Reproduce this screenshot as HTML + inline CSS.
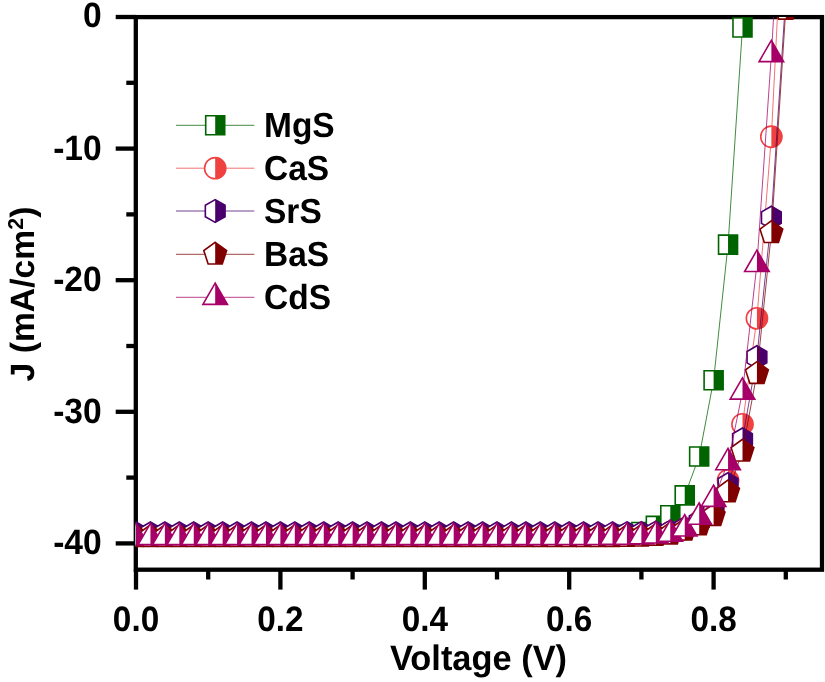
<!DOCTYPE html><html><head><meta charset="utf-8"><style>html,body{margin:0;padding:0;background:#fff}svg{display:block;will-change:transform}text{font-family:"Liberation Sans",sans-serif;font-weight:bold;fill:#000;text-rendering:geometricPrecision}</style></head><body>
<svg width="825" height="682" viewBox="0 0 825 682">
<rect width="825" height="682" fill="#fff"/>
<g stroke="#000" fill="none" stroke-linecap="butt">
<rect x="135.80" y="17.10" width="686.20" height="552.60" stroke-width="4.30"/>
<line x1="115.70" y1="17.00" x2="135.80" y2="17.00" stroke-width="4.30"/>
<line x1="115.70" y1="148.60" x2="135.80" y2="148.60" stroke-width="4.30"/>
<line x1="115.70" y1="280.20" x2="135.80" y2="280.20" stroke-width="4.30"/>
<line x1="115.70" y1="411.80" x2="135.80" y2="411.80" stroke-width="4.30"/>
<line x1="115.70" y1="543.40" x2="135.80" y2="543.40" stroke-width="4.30"/>
<line x1="126.30" y1="82.80" x2="135.80" y2="82.80" stroke-width="4.30"/>
<line x1="126.30" y1="214.40" x2="135.80" y2="214.40" stroke-width="4.30"/>
<line x1="126.30" y1="346.00" x2="135.80" y2="346.00" stroke-width="4.30"/>
<line x1="126.30" y1="477.60" x2="135.80" y2="477.60" stroke-width="4.30"/>
<line x1="136.00" y1="569.70" x2="136.00" y2="589.60" stroke-width="4.30"/>
<line x1="208.20" y1="569.70" x2="208.20" y2="579.50" stroke-width="4.30"/>
<line x1="280.40" y1="569.70" x2="280.40" y2="589.60" stroke-width="4.30"/>
<line x1="352.60" y1="569.70" x2="352.60" y2="579.50" stroke-width="4.30"/>
<line x1="424.80" y1="569.70" x2="424.80" y2="589.60" stroke-width="4.30"/>
<line x1="497.00" y1="569.70" x2="497.00" y2="579.50" stroke-width="4.30"/>
<line x1="569.20" y1="569.70" x2="569.20" y2="589.60" stroke-width="4.30"/>
<line x1="641.40" y1="569.70" x2="641.40" y2="579.50" stroke-width="4.30"/>
<line x1="713.60" y1="569.70" x2="713.60" y2="589.60" stroke-width="4.30"/>
<line x1="785.80" y1="569.70" x2="785.80" y2="579.50" stroke-width="4.30"/>
</g>
<text transform="translate(101.70,27.40) scale(1,1.050)" font-size="33.60" text-anchor="end">0</text>
<text transform="translate(101.70,159.50) scale(1,1.050)" font-size="33.60" text-anchor="end">-10</text>
<text transform="translate(101.70,291.10) scale(1,1.050)" font-size="33.60" text-anchor="end">-20</text>
<text transform="translate(101.70,422.70) scale(1,1.050)" font-size="33.60" text-anchor="end">-30</text>
<text transform="translate(101.70,554.30) scale(1,1.050)" font-size="33.60" text-anchor="end">-40</text>
<text transform="translate(136.00,630.70) scale(1,1.060)" font-size="33.30" text-anchor="middle">0.0</text>
<text transform="translate(280.40,630.70) scale(1,1.060)" font-size="33.30" text-anchor="middle">0.2</text>
<text transform="translate(424.80,630.70) scale(1,1.060)" font-size="33.30" text-anchor="middle">0.4</text>
<text transform="translate(569.20,630.70) scale(1,1.060)" font-size="33.30" text-anchor="middle">0.6</text>
<text transform="translate(713.60,630.70) scale(1,1.060)" font-size="33.30" text-anchor="middle">0.8</text>
<text transform="translate(478.50,670.00) scale(1,1.030)" font-size="34.40" text-anchor="middle">Voltage (V)</text>
<text transform="translate(33.70,294.00) rotate(-90) scale(1,1.000)" font-size="33.70" text-anchor="middle">J (mA/cm<tspan font-size="21.5" dy="-11">2</tspan><tspan dy="11">)</tspan></text>
<defs><clipPath id="c"><rect x="135.80" y="17.10" width="686.20" height="552.60"/></clipPath></defs>
<g clip-path="url(#c)">
<polyline points="136.00,535.77 150.44,535.77 164.88,535.77 179.32,535.77 193.76,535.77 208.20,535.77 222.64,535.77 237.08,535.77 251.52,535.77 265.96,535.77 280.40,535.77 294.84,535.77 309.28,535.77 323.72,535.77 338.16,535.77 352.60,535.77 367.04,535.77 381.48,535.77 395.92,535.77 410.36,535.77 424.80,535.77 439.24,535.77 453.68,535.77 468.12,535.77 482.56,535.77 497.00,535.77 511.44,535.76 525.88,535.76 540.32,535.76 554.76,535.75 569.20,535.72 583.64,535.68 598.08,535.58 612.52,535.37 626.96,534.85 641.40,531.95 655.84,525.90 670.28,515.24 684.72,495.37 699.16,456.54 713.60,380.22 728.04,244.67 742.48,27.53 756.92,-312.00" fill="none" stroke="#006400" stroke-width="0.75"/>
<polygon points="126.50,526.27 145.50,526.27 145.50,545.27 126.50,545.27" fill="#fff"/><polygon points="136.00,526.27 145.50,526.27 145.50,545.27 136.00,545.27" fill="#006400"/><polygon points="126.50,526.27 145.50,526.27 145.50,545.27 126.50,545.27" fill="none" stroke="#006400" stroke-width="1.60" stroke-linejoin="miter"/>
<polygon points="140.94,526.27 159.94,526.27 159.94,545.27 140.94,545.27" fill="#fff"/><polygon points="150.44,526.27 159.94,526.27 159.94,545.27 150.44,545.27" fill="#006400"/><polygon points="140.94,526.27 159.94,526.27 159.94,545.27 140.94,545.27" fill="none" stroke="#006400" stroke-width="1.60" stroke-linejoin="miter"/>
<polygon points="155.38,526.27 174.38,526.27 174.38,545.27 155.38,545.27" fill="#fff"/><polygon points="164.88,526.27 174.38,526.27 174.38,545.27 164.88,545.27" fill="#006400"/><polygon points="155.38,526.27 174.38,526.27 174.38,545.27 155.38,545.27" fill="none" stroke="#006400" stroke-width="1.60" stroke-linejoin="miter"/>
<polygon points="169.82,526.27 188.82,526.27 188.82,545.27 169.82,545.27" fill="#fff"/><polygon points="179.32,526.27 188.82,526.27 188.82,545.27 179.32,545.27" fill="#006400"/><polygon points="169.82,526.27 188.82,526.27 188.82,545.27 169.82,545.27" fill="none" stroke="#006400" stroke-width="1.60" stroke-linejoin="miter"/>
<polygon points="184.26,526.27 203.26,526.27 203.26,545.27 184.26,545.27" fill="#fff"/><polygon points="193.76,526.27 203.26,526.27 203.26,545.27 193.76,545.27" fill="#006400"/><polygon points="184.26,526.27 203.26,526.27 203.26,545.27 184.26,545.27" fill="none" stroke="#006400" stroke-width="1.60" stroke-linejoin="miter"/>
<polygon points="198.70,526.27 217.70,526.27 217.70,545.27 198.70,545.27" fill="#fff"/><polygon points="208.20,526.27 217.70,526.27 217.70,545.27 208.20,545.27" fill="#006400"/><polygon points="198.70,526.27 217.70,526.27 217.70,545.27 198.70,545.27" fill="none" stroke="#006400" stroke-width="1.60" stroke-linejoin="miter"/>
<polygon points="213.14,526.27 232.14,526.27 232.14,545.27 213.14,545.27" fill="#fff"/><polygon points="222.64,526.27 232.14,526.27 232.14,545.27 222.64,545.27" fill="#006400"/><polygon points="213.14,526.27 232.14,526.27 232.14,545.27 213.14,545.27" fill="none" stroke="#006400" stroke-width="1.60" stroke-linejoin="miter"/>
<polygon points="227.58,526.27 246.58,526.27 246.58,545.27 227.58,545.27" fill="#fff"/><polygon points="237.08,526.27 246.58,526.27 246.58,545.27 237.08,545.27" fill="#006400"/><polygon points="227.58,526.27 246.58,526.27 246.58,545.27 227.58,545.27" fill="none" stroke="#006400" stroke-width="1.60" stroke-linejoin="miter"/>
<polygon points="242.02,526.27 261.02,526.27 261.02,545.27 242.02,545.27" fill="#fff"/><polygon points="251.52,526.27 261.02,526.27 261.02,545.27 251.52,545.27" fill="#006400"/><polygon points="242.02,526.27 261.02,526.27 261.02,545.27 242.02,545.27" fill="none" stroke="#006400" stroke-width="1.60" stroke-linejoin="miter"/>
<polygon points="256.46,526.27 275.46,526.27 275.46,545.27 256.46,545.27" fill="#fff"/><polygon points="265.96,526.27 275.46,526.27 275.46,545.27 265.96,545.27" fill="#006400"/><polygon points="256.46,526.27 275.46,526.27 275.46,545.27 256.46,545.27" fill="none" stroke="#006400" stroke-width="1.60" stroke-linejoin="miter"/>
<polygon points="270.90,526.27 289.90,526.27 289.90,545.27 270.90,545.27" fill="#fff"/><polygon points="280.40,526.27 289.90,526.27 289.90,545.27 280.40,545.27" fill="#006400"/><polygon points="270.90,526.27 289.90,526.27 289.90,545.27 270.90,545.27" fill="none" stroke="#006400" stroke-width="1.60" stroke-linejoin="miter"/>
<polygon points="285.34,526.27 304.34,526.27 304.34,545.27 285.34,545.27" fill="#fff"/><polygon points="294.84,526.27 304.34,526.27 304.34,545.27 294.84,545.27" fill="#006400"/><polygon points="285.34,526.27 304.34,526.27 304.34,545.27 285.34,545.27" fill="none" stroke="#006400" stroke-width="1.60" stroke-linejoin="miter"/>
<polygon points="299.78,526.27 318.78,526.27 318.78,545.27 299.78,545.27" fill="#fff"/><polygon points="309.28,526.27 318.78,526.27 318.78,545.27 309.28,545.27" fill="#006400"/><polygon points="299.78,526.27 318.78,526.27 318.78,545.27 299.78,545.27" fill="none" stroke="#006400" stroke-width="1.60" stroke-linejoin="miter"/>
<polygon points="314.22,526.27 333.22,526.27 333.22,545.27 314.22,545.27" fill="#fff"/><polygon points="323.72,526.27 333.22,526.27 333.22,545.27 323.72,545.27" fill="#006400"/><polygon points="314.22,526.27 333.22,526.27 333.22,545.27 314.22,545.27" fill="none" stroke="#006400" stroke-width="1.60" stroke-linejoin="miter"/>
<polygon points="328.66,526.27 347.66,526.27 347.66,545.27 328.66,545.27" fill="#fff"/><polygon points="338.16,526.27 347.66,526.27 347.66,545.27 338.16,545.27" fill="#006400"/><polygon points="328.66,526.27 347.66,526.27 347.66,545.27 328.66,545.27" fill="none" stroke="#006400" stroke-width="1.60" stroke-linejoin="miter"/>
<polygon points="343.10,526.27 362.10,526.27 362.10,545.27 343.10,545.27" fill="#fff"/><polygon points="352.60,526.27 362.10,526.27 362.10,545.27 352.60,545.27" fill="#006400"/><polygon points="343.10,526.27 362.10,526.27 362.10,545.27 343.10,545.27" fill="none" stroke="#006400" stroke-width="1.60" stroke-linejoin="miter"/>
<polygon points="357.54,526.27 376.54,526.27 376.54,545.27 357.54,545.27" fill="#fff"/><polygon points="367.04,526.27 376.54,526.27 376.54,545.27 367.04,545.27" fill="#006400"/><polygon points="357.54,526.27 376.54,526.27 376.54,545.27 357.54,545.27" fill="none" stroke="#006400" stroke-width="1.60" stroke-linejoin="miter"/>
<polygon points="371.98,526.27 390.98,526.27 390.98,545.27 371.98,545.27" fill="#fff"/><polygon points="381.48,526.27 390.98,526.27 390.98,545.27 381.48,545.27" fill="#006400"/><polygon points="371.98,526.27 390.98,526.27 390.98,545.27 371.98,545.27" fill="none" stroke="#006400" stroke-width="1.60" stroke-linejoin="miter"/>
<polygon points="386.42,526.27 405.42,526.27 405.42,545.27 386.42,545.27" fill="#fff"/><polygon points="395.92,526.27 405.42,526.27 405.42,545.27 395.92,545.27" fill="#006400"/><polygon points="386.42,526.27 405.42,526.27 405.42,545.27 386.42,545.27" fill="none" stroke="#006400" stroke-width="1.60" stroke-linejoin="miter"/>
<polygon points="400.86,526.27 419.86,526.27 419.86,545.27 400.86,545.27" fill="#fff"/><polygon points="410.36,526.27 419.86,526.27 419.86,545.27 410.36,545.27" fill="#006400"/><polygon points="400.86,526.27 419.86,526.27 419.86,545.27 400.86,545.27" fill="none" stroke="#006400" stroke-width="1.60" stroke-linejoin="miter"/>
<polygon points="415.30,526.27 434.30,526.27 434.30,545.27 415.30,545.27" fill="#fff"/><polygon points="424.80,526.27 434.30,526.27 434.30,545.27 424.80,545.27" fill="#006400"/><polygon points="415.30,526.27 434.30,526.27 434.30,545.27 415.30,545.27" fill="none" stroke="#006400" stroke-width="1.60" stroke-linejoin="miter"/>
<polygon points="429.74,526.27 448.74,526.27 448.74,545.27 429.74,545.27" fill="#fff"/><polygon points="439.24,526.27 448.74,526.27 448.74,545.27 439.24,545.27" fill="#006400"/><polygon points="429.74,526.27 448.74,526.27 448.74,545.27 429.74,545.27" fill="none" stroke="#006400" stroke-width="1.60" stroke-linejoin="miter"/>
<polygon points="444.18,526.27 463.18,526.27 463.18,545.27 444.18,545.27" fill="#fff"/><polygon points="453.68,526.27 463.18,526.27 463.18,545.27 453.68,545.27" fill="#006400"/><polygon points="444.18,526.27 463.18,526.27 463.18,545.27 444.18,545.27" fill="none" stroke="#006400" stroke-width="1.60" stroke-linejoin="miter"/>
<polygon points="458.62,526.27 477.62,526.27 477.62,545.27 458.62,545.27" fill="#fff"/><polygon points="468.12,526.27 477.62,526.27 477.62,545.27 468.12,545.27" fill="#006400"/><polygon points="458.62,526.27 477.62,526.27 477.62,545.27 458.62,545.27" fill="none" stroke="#006400" stroke-width="1.60" stroke-linejoin="miter"/>
<polygon points="473.06,526.27 492.06,526.27 492.06,545.27 473.06,545.27" fill="#fff"/><polygon points="482.56,526.27 492.06,526.27 492.06,545.27 482.56,545.27" fill="#006400"/><polygon points="473.06,526.27 492.06,526.27 492.06,545.27 473.06,545.27" fill="none" stroke="#006400" stroke-width="1.60" stroke-linejoin="miter"/>
<polygon points="487.50,526.27 506.50,526.27 506.50,545.27 487.50,545.27" fill="#fff"/><polygon points="497.00,526.27 506.50,526.27 506.50,545.27 497.00,545.27" fill="#006400"/><polygon points="487.50,526.27 506.50,526.27 506.50,545.27 487.50,545.27" fill="none" stroke="#006400" stroke-width="1.60" stroke-linejoin="miter"/>
<polygon points="501.94,526.26 520.94,526.26 520.94,545.26 501.94,545.26" fill="#fff"/><polygon points="511.44,526.26 520.94,526.26 520.94,545.26 511.44,545.26" fill="#006400"/><polygon points="501.94,526.26 520.94,526.26 520.94,545.26 501.94,545.26" fill="none" stroke="#006400" stroke-width="1.60" stroke-linejoin="miter"/>
<polygon points="516.38,526.26 535.38,526.26 535.38,545.26 516.38,545.26" fill="#fff"/><polygon points="525.88,526.26 535.38,526.26 535.38,545.26 525.88,545.26" fill="#006400"/><polygon points="516.38,526.26 535.38,526.26 535.38,545.26 516.38,545.26" fill="none" stroke="#006400" stroke-width="1.60" stroke-linejoin="miter"/>
<polygon points="530.82,526.26 549.82,526.26 549.82,545.26 530.82,545.26" fill="#fff"/><polygon points="540.32,526.26 549.82,526.26 549.82,545.26 540.32,545.26" fill="#006400"/><polygon points="530.82,526.26 549.82,526.26 549.82,545.26 530.82,545.26" fill="none" stroke="#006400" stroke-width="1.60" stroke-linejoin="miter"/>
<polygon points="545.26,526.25 564.26,526.25 564.26,545.25 545.26,545.25" fill="#fff"/><polygon points="554.76,526.25 564.26,526.25 564.26,545.25 554.76,545.25" fill="#006400"/><polygon points="545.26,526.25 564.26,526.25 564.26,545.25 545.26,545.25" fill="none" stroke="#006400" stroke-width="1.60" stroke-linejoin="miter"/>
<polygon points="559.70,526.22 578.70,526.22 578.70,545.22 559.70,545.22" fill="#fff"/><polygon points="569.20,526.22 578.70,526.22 578.70,545.22 569.20,545.22" fill="#006400"/><polygon points="559.70,526.22 578.70,526.22 578.70,545.22 559.70,545.22" fill="none" stroke="#006400" stroke-width="1.60" stroke-linejoin="miter"/>
<polygon points="574.14,526.18 593.14,526.18 593.14,545.18 574.14,545.18" fill="#fff"/><polygon points="583.64,526.18 593.14,526.18 593.14,545.18 583.64,545.18" fill="#006400"/><polygon points="574.14,526.18 593.14,526.18 593.14,545.18 574.14,545.18" fill="none" stroke="#006400" stroke-width="1.60" stroke-linejoin="miter"/>
<polygon points="588.58,526.08 607.58,526.08 607.58,545.08 588.58,545.08" fill="#fff"/><polygon points="598.08,526.08 607.58,526.08 607.58,545.08 598.08,545.08" fill="#006400"/><polygon points="588.58,526.08 607.58,526.08 607.58,545.08 588.58,545.08" fill="none" stroke="#006400" stroke-width="1.60" stroke-linejoin="miter"/>
<polygon points="603.02,525.87 622.02,525.87 622.02,544.87 603.02,544.87" fill="#fff"/><polygon points="612.52,525.87 622.02,525.87 622.02,544.87 612.52,544.87" fill="#006400"/><polygon points="603.02,525.87 622.02,525.87 622.02,544.87 603.02,544.87" fill="none" stroke="#006400" stroke-width="1.60" stroke-linejoin="miter"/>
<polygon points="617.46,525.35 636.46,525.35 636.46,544.35 617.46,544.35" fill="#fff"/><polygon points="626.96,525.35 636.46,525.35 636.46,544.35 626.96,544.35" fill="#006400"/><polygon points="617.46,525.35 636.46,525.35 636.46,544.35 617.46,544.35" fill="none" stroke="#006400" stroke-width="1.60" stroke-linejoin="miter"/>
<polygon points="631.90,522.45 650.90,522.45 650.90,541.45 631.90,541.45" fill="#fff"/><polygon points="641.40,522.45 650.90,522.45 650.90,541.45 641.40,541.45" fill="#006400"/><polygon points="631.90,522.45 650.90,522.45 650.90,541.45 631.90,541.45" fill="none" stroke="#006400" stroke-width="1.60" stroke-linejoin="miter"/>
<polygon points="646.34,516.40 665.34,516.40 665.34,535.40 646.34,535.40" fill="#fff"/><polygon points="655.84,516.40 665.34,516.40 665.34,535.40 655.84,535.40" fill="#006400"/><polygon points="646.34,516.40 665.34,516.40 665.34,535.40 646.34,535.40" fill="none" stroke="#006400" stroke-width="1.60" stroke-linejoin="miter"/>
<polygon points="660.78,505.74 679.78,505.74 679.78,524.74 660.78,524.74" fill="#fff"/><polygon points="670.28,505.74 679.78,505.74 679.78,524.74 670.28,524.74" fill="#006400"/><polygon points="660.78,505.74 679.78,505.74 679.78,524.74 660.78,524.74" fill="none" stroke="#006400" stroke-width="1.60" stroke-linejoin="miter"/>
<polygon points="675.22,485.87 694.22,485.87 694.22,504.87 675.22,504.87" fill="#fff"/><polygon points="684.72,485.87 694.22,485.87 694.22,504.87 684.72,504.87" fill="#006400"/><polygon points="675.22,485.87 694.22,485.87 694.22,504.87 675.22,504.87" fill="none" stroke="#006400" stroke-width="1.60" stroke-linejoin="miter"/>
<polygon points="689.66,447.04 708.66,447.04 708.66,466.04 689.66,466.04" fill="#fff"/><polygon points="699.16,447.04 708.66,447.04 708.66,466.04 699.16,466.04" fill="#006400"/><polygon points="689.66,447.04 708.66,447.04 708.66,466.04 689.66,466.04" fill="none" stroke="#006400" stroke-width="1.60" stroke-linejoin="miter"/>
<polygon points="704.10,370.72 723.10,370.72 723.10,389.72 704.10,389.72" fill="#fff"/><polygon points="713.60,370.72 723.10,370.72 723.10,389.72 713.60,389.72" fill="#006400"/><polygon points="704.10,370.72 723.10,370.72 723.10,389.72 704.10,389.72" fill="none" stroke="#006400" stroke-width="1.60" stroke-linejoin="miter"/>
<polygon points="718.54,235.17 737.54,235.17 737.54,254.17 718.54,254.17" fill="#fff"/><polygon points="728.04,235.17 737.54,235.17 737.54,254.17 728.04,254.17" fill="#006400"/><polygon points="718.54,235.17 737.54,235.17 737.54,254.17 718.54,254.17" fill="none" stroke="#006400" stroke-width="1.60" stroke-linejoin="miter"/>
<polygon points="732.98,18.03 751.98,18.03 751.98,37.03 732.98,37.03" fill="#fff"/><polygon points="742.48,18.03 751.98,18.03 751.98,37.03 742.48,37.03" fill="#006400"/><polygon points="732.98,18.03 751.98,18.03 751.98,37.03 732.98,37.03" fill="none" stroke="#006400" stroke-width="1.60" stroke-linejoin="miter"/>
<polygon points="747.42,-321.50 766.42,-321.50 766.42,-302.50 747.42,-302.50" fill="#fff"/><polygon points="756.92,-321.50 766.42,-321.50 766.42,-302.50 756.92,-302.50" fill="#006400"/><polygon points="747.42,-321.50 766.42,-321.50 766.42,-302.50 747.42,-302.50" fill="none" stroke="#006400" stroke-width="1.60" stroke-linejoin="miter"/>
<polyline points="136.00,535.50 150.44,535.50 164.88,535.50 179.32,535.50 193.76,535.50 208.20,535.50 222.64,535.50 237.08,535.50 251.52,535.50 265.96,535.50 280.40,535.50 294.84,535.50 309.28,535.50 323.72,535.50 338.16,535.50 352.60,535.50 367.04,535.50 381.48,535.50 395.92,535.50 410.36,535.50 424.80,535.50 439.24,535.50 453.68,535.50 468.12,535.50 482.56,535.50 497.00,535.50 511.44,535.50 525.88,535.50 540.32,535.50 554.76,535.50 569.20,535.49 583.64,535.47 598.08,535.42 612.52,535.33 626.96,535.15 641.40,534.76 655.84,533.94 670.28,532.21 684.72,528.92 699.16,521.69 713.60,507.87 728.04,480.23 742.48,424.30 756.92,318.36 771.36,136.76 785.80,-148.82" fill="none" stroke="#f04141" stroke-width="0.75"/>
<circle cx="136.00" cy="535.50" r="10.60" fill="#fff" stroke="none"/><path d="M136.00 524.90 A10.60 10.60 0 0 1 136.00 546.10 Z" fill="#f04141"/><circle cx="136.00" cy="535.50" r="10.60" fill="none" stroke="#f04141" stroke-width="1.60"/>
<circle cx="150.44" cy="535.50" r="10.60" fill="#fff" stroke="none"/><path d="M150.44 524.90 A10.60 10.60 0 0 1 150.44 546.10 Z" fill="#f04141"/><circle cx="150.44" cy="535.50" r="10.60" fill="none" stroke="#f04141" stroke-width="1.60"/>
<circle cx="164.88" cy="535.50" r="10.60" fill="#fff" stroke="none"/><path d="M164.88 524.90 A10.60 10.60 0 0 1 164.88 546.10 Z" fill="#f04141"/><circle cx="164.88" cy="535.50" r="10.60" fill="none" stroke="#f04141" stroke-width="1.60"/>
<circle cx="179.32" cy="535.50" r="10.60" fill="#fff" stroke="none"/><path d="M179.32 524.90 A10.60 10.60 0 0 1 179.32 546.10 Z" fill="#f04141"/><circle cx="179.32" cy="535.50" r="10.60" fill="none" stroke="#f04141" stroke-width="1.60"/>
<circle cx="193.76" cy="535.50" r="10.60" fill="#fff" stroke="none"/><path d="M193.76 524.90 A10.60 10.60 0 0 1 193.76 546.10 Z" fill="#f04141"/><circle cx="193.76" cy="535.50" r="10.60" fill="none" stroke="#f04141" stroke-width="1.60"/>
<circle cx="208.20" cy="535.50" r="10.60" fill="#fff" stroke="none"/><path d="M208.20 524.90 A10.60 10.60 0 0 1 208.20 546.10 Z" fill="#f04141"/><circle cx="208.20" cy="535.50" r="10.60" fill="none" stroke="#f04141" stroke-width="1.60"/>
<circle cx="222.64" cy="535.50" r="10.60" fill="#fff" stroke="none"/><path d="M222.64 524.90 A10.60 10.60 0 0 1 222.64 546.10 Z" fill="#f04141"/><circle cx="222.64" cy="535.50" r="10.60" fill="none" stroke="#f04141" stroke-width="1.60"/>
<circle cx="237.08" cy="535.50" r="10.60" fill="#fff" stroke="none"/><path d="M237.08 524.90 A10.60 10.60 0 0 1 237.08 546.10 Z" fill="#f04141"/><circle cx="237.08" cy="535.50" r="10.60" fill="none" stroke="#f04141" stroke-width="1.60"/>
<circle cx="251.52" cy="535.50" r="10.60" fill="#fff" stroke="none"/><path d="M251.52 524.90 A10.60 10.60 0 0 1 251.52 546.10 Z" fill="#f04141"/><circle cx="251.52" cy="535.50" r="10.60" fill="none" stroke="#f04141" stroke-width="1.60"/>
<circle cx="265.96" cy="535.50" r="10.60" fill="#fff" stroke="none"/><path d="M265.96 524.90 A10.60 10.60 0 0 1 265.96 546.10 Z" fill="#f04141"/><circle cx="265.96" cy="535.50" r="10.60" fill="none" stroke="#f04141" stroke-width="1.60"/>
<circle cx="280.40" cy="535.50" r="10.60" fill="#fff" stroke="none"/><path d="M280.40 524.90 A10.60 10.60 0 0 1 280.40 546.10 Z" fill="#f04141"/><circle cx="280.40" cy="535.50" r="10.60" fill="none" stroke="#f04141" stroke-width="1.60"/>
<circle cx="294.84" cy="535.50" r="10.60" fill="#fff" stroke="none"/><path d="M294.84 524.90 A10.60 10.60 0 0 1 294.84 546.10 Z" fill="#f04141"/><circle cx="294.84" cy="535.50" r="10.60" fill="none" stroke="#f04141" stroke-width="1.60"/>
<circle cx="309.28" cy="535.50" r="10.60" fill="#fff" stroke="none"/><path d="M309.28 524.90 A10.60 10.60 0 0 1 309.28 546.10 Z" fill="#f04141"/><circle cx="309.28" cy="535.50" r="10.60" fill="none" stroke="#f04141" stroke-width="1.60"/>
<circle cx="323.72" cy="535.50" r="10.60" fill="#fff" stroke="none"/><path d="M323.72 524.90 A10.60 10.60 0 0 1 323.72 546.10 Z" fill="#f04141"/><circle cx="323.72" cy="535.50" r="10.60" fill="none" stroke="#f04141" stroke-width="1.60"/>
<circle cx="338.16" cy="535.50" r="10.60" fill="#fff" stroke="none"/><path d="M338.16 524.90 A10.60 10.60 0 0 1 338.16 546.10 Z" fill="#f04141"/><circle cx="338.16" cy="535.50" r="10.60" fill="none" stroke="#f04141" stroke-width="1.60"/>
<circle cx="352.60" cy="535.50" r="10.60" fill="#fff" stroke="none"/><path d="M352.60 524.90 A10.60 10.60 0 0 1 352.60 546.10 Z" fill="#f04141"/><circle cx="352.60" cy="535.50" r="10.60" fill="none" stroke="#f04141" stroke-width="1.60"/>
<circle cx="367.04" cy="535.50" r="10.60" fill="#fff" stroke="none"/><path d="M367.04 524.90 A10.60 10.60 0 0 1 367.04 546.10 Z" fill="#f04141"/><circle cx="367.04" cy="535.50" r="10.60" fill="none" stroke="#f04141" stroke-width="1.60"/>
<circle cx="381.48" cy="535.50" r="10.60" fill="#fff" stroke="none"/><path d="M381.48 524.90 A10.60 10.60 0 0 1 381.48 546.10 Z" fill="#f04141"/><circle cx="381.48" cy="535.50" r="10.60" fill="none" stroke="#f04141" stroke-width="1.60"/>
<circle cx="395.92" cy="535.50" r="10.60" fill="#fff" stroke="none"/><path d="M395.92 524.90 A10.60 10.60 0 0 1 395.92 546.10 Z" fill="#f04141"/><circle cx="395.92" cy="535.50" r="10.60" fill="none" stroke="#f04141" stroke-width="1.60"/>
<circle cx="410.36" cy="535.50" r="10.60" fill="#fff" stroke="none"/><path d="M410.36 524.90 A10.60 10.60 0 0 1 410.36 546.10 Z" fill="#f04141"/><circle cx="410.36" cy="535.50" r="10.60" fill="none" stroke="#f04141" stroke-width="1.60"/>
<circle cx="424.80" cy="535.50" r="10.60" fill="#fff" stroke="none"/><path d="M424.80 524.90 A10.60 10.60 0 0 1 424.80 546.10 Z" fill="#f04141"/><circle cx="424.80" cy="535.50" r="10.60" fill="none" stroke="#f04141" stroke-width="1.60"/>
<circle cx="439.24" cy="535.50" r="10.60" fill="#fff" stroke="none"/><path d="M439.24 524.90 A10.60 10.60 0 0 1 439.24 546.10 Z" fill="#f04141"/><circle cx="439.24" cy="535.50" r="10.60" fill="none" stroke="#f04141" stroke-width="1.60"/>
<circle cx="453.68" cy="535.50" r="10.60" fill="#fff" stroke="none"/><path d="M453.68 524.90 A10.60 10.60 0 0 1 453.68 546.10 Z" fill="#f04141"/><circle cx="453.68" cy="535.50" r="10.60" fill="none" stroke="#f04141" stroke-width="1.60"/>
<circle cx="468.12" cy="535.50" r="10.60" fill="#fff" stroke="none"/><path d="M468.12 524.90 A10.60 10.60 0 0 1 468.12 546.10 Z" fill="#f04141"/><circle cx="468.12" cy="535.50" r="10.60" fill="none" stroke="#f04141" stroke-width="1.60"/>
<circle cx="482.56" cy="535.50" r="10.60" fill="#fff" stroke="none"/><path d="M482.56 524.90 A10.60 10.60 0 0 1 482.56 546.10 Z" fill="#f04141"/><circle cx="482.56" cy="535.50" r="10.60" fill="none" stroke="#f04141" stroke-width="1.60"/>
<circle cx="497.00" cy="535.50" r="10.60" fill="#fff" stroke="none"/><path d="M497.00 524.90 A10.60 10.60 0 0 1 497.00 546.10 Z" fill="#f04141"/><circle cx="497.00" cy="535.50" r="10.60" fill="none" stroke="#f04141" stroke-width="1.60"/>
<circle cx="511.44" cy="535.50" r="10.60" fill="#fff" stroke="none"/><path d="M511.44 524.90 A10.60 10.60 0 0 1 511.44 546.10 Z" fill="#f04141"/><circle cx="511.44" cy="535.50" r="10.60" fill="none" stroke="#f04141" stroke-width="1.60"/>
<circle cx="525.88" cy="535.50" r="10.60" fill="#fff" stroke="none"/><path d="M525.88 524.90 A10.60 10.60 0 0 1 525.88 546.10 Z" fill="#f04141"/><circle cx="525.88" cy="535.50" r="10.60" fill="none" stroke="#f04141" stroke-width="1.60"/>
<circle cx="540.32" cy="535.50" r="10.60" fill="#fff" stroke="none"/><path d="M540.32 524.90 A10.60 10.60 0 0 1 540.32 546.10 Z" fill="#f04141"/><circle cx="540.32" cy="535.50" r="10.60" fill="none" stroke="#f04141" stroke-width="1.60"/>
<circle cx="554.76" cy="535.50" r="10.60" fill="#fff" stroke="none"/><path d="M554.76 524.90 A10.60 10.60 0 0 1 554.76 546.10 Z" fill="#f04141"/><circle cx="554.76" cy="535.50" r="10.60" fill="none" stroke="#f04141" stroke-width="1.60"/>
<circle cx="569.20" cy="535.49" r="10.60" fill="#fff" stroke="none"/><path d="M569.20 524.89 A10.60 10.60 0 0 1 569.20 546.09 Z" fill="#f04141"/><circle cx="569.20" cy="535.49" r="10.60" fill="none" stroke="#f04141" stroke-width="1.60"/>
<circle cx="583.64" cy="535.47" r="10.60" fill="#fff" stroke="none"/><path d="M583.64 524.87 A10.60 10.60 0 0 1 583.64 546.07 Z" fill="#f04141"/><circle cx="583.64" cy="535.47" r="10.60" fill="none" stroke="#f04141" stroke-width="1.60"/>
<circle cx="598.08" cy="535.42" r="10.60" fill="#fff" stroke="none"/><path d="M598.08 524.82 A10.60 10.60 0 0 1 598.08 546.02 Z" fill="#f04141"/><circle cx="598.08" cy="535.42" r="10.60" fill="none" stroke="#f04141" stroke-width="1.60"/>
<circle cx="612.52" cy="535.33" r="10.60" fill="#fff" stroke="none"/><path d="M612.52 524.73 A10.60 10.60 0 0 1 612.52 545.93 Z" fill="#f04141"/><circle cx="612.52" cy="535.33" r="10.60" fill="none" stroke="#f04141" stroke-width="1.60"/>
<circle cx="626.96" cy="535.15" r="10.60" fill="#fff" stroke="none"/><path d="M626.96 524.55 A10.60 10.60 0 0 1 626.96 545.75 Z" fill="#f04141"/><circle cx="626.96" cy="535.15" r="10.60" fill="none" stroke="#f04141" stroke-width="1.60"/>
<circle cx="641.40" cy="534.76" r="10.60" fill="#fff" stroke="none"/><path d="M641.40 524.16 A10.60 10.60 0 0 1 641.40 545.36 Z" fill="#f04141"/><circle cx="641.40" cy="534.76" r="10.60" fill="none" stroke="#f04141" stroke-width="1.60"/>
<circle cx="655.84" cy="533.94" r="10.60" fill="#fff" stroke="none"/><path d="M655.84 523.34 A10.60 10.60 0 0 1 655.84 544.54 Z" fill="#f04141"/><circle cx="655.84" cy="533.94" r="10.60" fill="none" stroke="#f04141" stroke-width="1.60"/>
<circle cx="670.28" cy="532.21" r="10.60" fill="#fff" stroke="none"/><path d="M670.28 521.61 A10.60 10.60 0 0 1 670.28 542.81 Z" fill="#f04141"/><circle cx="670.28" cy="532.21" r="10.60" fill="none" stroke="#f04141" stroke-width="1.60"/>
<circle cx="684.72" cy="528.92" r="10.60" fill="#fff" stroke="none"/><path d="M684.72 518.32 A10.60 10.60 0 0 1 684.72 539.52 Z" fill="#f04141"/><circle cx="684.72" cy="528.92" r="10.60" fill="none" stroke="#f04141" stroke-width="1.60"/>
<circle cx="699.16" cy="521.69" r="10.60" fill="#fff" stroke="none"/><path d="M699.16 511.09 A10.60 10.60 0 0 1 699.16 532.29 Z" fill="#f04141"/><circle cx="699.16" cy="521.69" r="10.60" fill="none" stroke="#f04141" stroke-width="1.60"/>
<circle cx="713.60" cy="507.87" r="10.60" fill="#fff" stroke="none"/><path d="M713.60 497.27 A10.60 10.60 0 0 1 713.60 518.47 Z" fill="#f04141"/><circle cx="713.60" cy="507.87" r="10.60" fill="none" stroke="#f04141" stroke-width="1.60"/>
<circle cx="728.04" cy="480.23" r="10.60" fill="#fff" stroke="none"/><path d="M728.04 469.63 A10.60 10.60 0 0 1 728.04 490.83 Z" fill="#f04141"/><circle cx="728.04" cy="480.23" r="10.60" fill="none" stroke="#f04141" stroke-width="1.60"/>
<circle cx="742.48" cy="424.30" r="10.60" fill="#fff" stroke="none"/><path d="M742.48 413.70 A10.60 10.60 0 0 1 742.48 434.90 Z" fill="#f04141"/><circle cx="742.48" cy="424.30" r="10.60" fill="none" stroke="#f04141" stroke-width="1.60"/>
<circle cx="756.92" cy="318.36" r="10.60" fill="#fff" stroke="none"/><path d="M756.92 307.76 A10.60 10.60 0 0 1 756.92 328.96 Z" fill="#f04141"/><circle cx="756.92" cy="318.36" r="10.60" fill="none" stroke="#f04141" stroke-width="1.60"/>
<circle cx="771.36" cy="136.76" r="10.60" fill="#fff" stroke="none"/><path d="M771.36 126.16 A10.60 10.60 0 0 1 771.36 147.36 Z" fill="#f04141"/><circle cx="771.36" cy="136.76" r="10.60" fill="none" stroke="#f04141" stroke-width="1.60"/>
<circle cx="785.80" cy="-148.82" r="10.60" fill="#fff" stroke="none"/><path d="M785.80 -159.42 A10.60 10.60 0 0 1 785.80 -138.22 Z" fill="#f04141"/><circle cx="785.80" cy="-148.82" r="10.60" fill="none" stroke="#f04141" stroke-width="1.60"/>
<polyline points="136.00,533.40 150.44,533.40 164.88,533.40 179.32,533.40 193.76,533.40 208.20,533.40 222.64,533.40 237.08,533.40 251.52,533.40 265.96,533.40 280.40,533.40 294.84,533.40 309.28,533.40 323.72,533.40 338.16,533.40 352.60,533.40 367.04,533.40 381.48,533.40 395.92,533.40 410.36,533.40 424.80,533.40 439.24,533.40 453.68,533.40 468.12,533.40 482.56,533.40 497.00,533.40 511.44,533.40 525.88,533.40 540.32,533.40 554.76,533.39 569.20,533.39 583.64,533.38 598.08,533.35 612.52,533.30 626.96,533.20 641.40,532.98 655.84,532.52 670.28,531.56 684.72,528.27 699.16,521.69 713.60,508.53 728.04,484.18 742.48,439.44 756.92,357.19 771.36,217.69 785.80,-4.06" fill="none" stroke="#4a006c" stroke-width="0.75"/>
<polygon points="136.00,522.00 145.87,527.70 145.87,539.10 136.00,544.80 126.13,539.10 126.13,527.70" fill="#fff"/><polygon points="136.00,522.00 145.87,527.70 145.87,539.10 136.00,544.80 136.00,544.80 136.00,522.00" fill="#4a006c"/><polygon points="136.00,522.00 145.87,527.70 145.87,539.10 136.00,544.80 126.13,539.10 126.13,527.70" fill="none" stroke="#4a006c" stroke-width="1.60" stroke-linejoin="miter"/>
<polygon points="150.44,522.00 160.31,527.70 160.31,539.10 150.44,544.80 140.57,539.10 140.57,527.70" fill="#fff"/><polygon points="150.44,522.00 160.31,527.70 160.31,539.10 150.44,544.80 150.44,544.80 150.44,522.00" fill="#4a006c"/><polygon points="150.44,522.00 160.31,527.70 160.31,539.10 150.44,544.80 140.57,539.10 140.57,527.70" fill="none" stroke="#4a006c" stroke-width="1.60" stroke-linejoin="miter"/>
<polygon points="164.88,522.00 174.75,527.70 174.75,539.10 164.88,544.80 155.01,539.10 155.01,527.70" fill="#fff"/><polygon points="164.88,522.00 174.75,527.70 174.75,539.10 164.88,544.80 164.88,544.80 164.88,522.00" fill="#4a006c"/><polygon points="164.88,522.00 174.75,527.70 174.75,539.10 164.88,544.80 155.01,539.10 155.01,527.70" fill="none" stroke="#4a006c" stroke-width="1.60" stroke-linejoin="miter"/>
<polygon points="179.32,522.00 189.19,527.70 189.19,539.10 179.32,544.80 169.45,539.10 169.45,527.70" fill="#fff"/><polygon points="179.32,522.00 189.19,527.70 189.19,539.10 179.32,544.80 179.32,544.80 179.32,522.00" fill="#4a006c"/><polygon points="179.32,522.00 189.19,527.70 189.19,539.10 179.32,544.80 169.45,539.10 169.45,527.70" fill="none" stroke="#4a006c" stroke-width="1.60" stroke-linejoin="miter"/>
<polygon points="193.76,522.00 203.63,527.70 203.63,539.10 193.76,544.80 183.89,539.10 183.89,527.70" fill="#fff"/><polygon points="193.76,522.00 203.63,527.70 203.63,539.10 193.76,544.80 193.76,544.80 193.76,522.00" fill="#4a006c"/><polygon points="193.76,522.00 203.63,527.70 203.63,539.10 193.76,544.80 183.89,539.10 183.89,527.70" fill="none" stroke="#4a006c" stroke-width="1.60" stroke-linejoin="miter"/>
<polygon points="208.20,522.00 218.07,527.70 218.07,539.10 208.20,544.80 198.33,539.10 198.33,527.70" fill="#fff"/><polygon points="208.20,522.00 218.07,527.70 218.07,539.10 208.20,544.80 208.20,544.80 208.20,522.00" fill="#4a006c"/><polygon points="208.20,522.00 218.07,527.70 218.07,539.10 208.20,544.80 198.33,539.10 198.33,527.70" fill="none" stroke="#4a006c" stroke-width="1.60" stroke-linejoin="miter"/>
<polygon points="222.64,522.00 232.51,527.70 232.51,539.10 222.64,544.80 212.77,539.10 212.77,527.70" fill="#fff"/><polygon points="222.64,522.00 232.51,527.70 232.51,539.10 222.64,544.80 222.64,544.80 222.64,522.00" fill="#4a006c"/><polygon points="222.64,522.00 232.51,527.70 232.51,539.10 222.64,544.80 212.77,539.10 212.77,527.70" fill="none" stroke="#4a006c" stroke-width="1.60" stroke-linejoin="miter"/>
<polygon points="237.08,522.00 246.95,527.70 246.95,539.10 237.08,544.80 227.21,539.10 227.21,527.70" fill="#fff"/><polygon points="237.08,522.00 246.95,527.70 246.95,539.10 237.08,544.80 237.08,544.80 237.08,522.00" fill="#4a006c"/><polygon points="237.08,522.00 246.95,527.70 246.95,539.10 237.08,544.80 227.21,539.10 227.21,527.70" fill="none" stroke="#4a006c" stroke-width="1.60" stroke-linejoin="miter"/>
<polygon points="251.52,522.00 261.39,527.70 261.39,539.10 251.52,544.80 241.65,539.10 241.65,527.70" fill="#fff"/><polygon points="251.52,522.00 261.39,527.70 261.39,539.10 251.52,544.80 251.52,544.80 251.52,522.00" fill="#4a006c"/><polygon points="251.52,522.00 261.39,527.70 261.39,539.10 251.52,544.80 241.65,539.10 241.65,527.70" fill="none" stroke="#4a006c" stroke-width="1.60" stroke-linejoin="miter"/>
<polygon points="265.96,522.00 275.83,527.70 275.83,539.10 265.96,544.80 256.09,539.10 256.09,527.70" fill="#fff"/><polygon points="265.96,522.00 275.83,527.70 275.83,539.10 265.96,544.80 265.96,544.80 265.96,522.00" fill="#4a006c"/><polygon points="265.96,522.00 275.83,527.70 275.83,539.10 265.96,544.80 256.09,539.10 256.09,527.70" fill="none" stroke="#4a006c" stroke-width="1.60" stroke-linejoin="miter"/>
<polygon points="280.40,522.00 290.27,527.70 290.27,539.10 280.40,544.80 270.53,539.10 270.53,527.70" fill="#fff"/><polygon points="280.40,522.00 290.27,527.70 290.27,539.10 280.40,544.80 280.40,544.80 280.40,522.00" fill="#4a006c"/><polygon points="280.40,522.00 290.27,527.70 290.27,539.10 280.40,544.80 270.53,539.10 270.53,527.70" fill="none" stroke="#4a006c" stroke-width="1.60" stroke-linejoin="miter"/>
<polygon points="294.84,522.00 304.71,527.70 304.71,539.10 294.84,544.80 284.97,539.10 284.97,527.70" fill="#fff"/><polygon points="294.84,522.00 304.71,527.70 304.71,539.10 294.84,544.80 294.84,544.80 294.84,522.00" fill="#4a006c"/><polygon points="294.84,522.00 304.71,527.70 304.71,539.10 294.84,544.80 284.97,539.10 284.97,527.70" fill="none" stroke="#4a006c" stroke-width="1.60" stroke-linejoin="miter"/>
<polygon points="309.28,522.00 319.15,527.70 319.15,539.10 309.28,544.80 299.41,539.10 299.41,527.70" fill="#fff"/><polygon points="309.28,522.00 319.15,527.70 319.15,539.10 309.28,544.80 309.28,544.80 309.28,522.00" fill="#4a006c"/><polygon points="309.28,522.00 319.15,527.70 319.15,539.10 309.28,544.80 299.41,539.10 299.41,527.70" fill="none" stroke="#4a006c" stroke-width="1.60" stroke-linejoin="miter"/>
<polygon points="323.72,522.00 333.59,527.70 333.59,539.10 323.72,544.80 313.85,539.10 313.85,527.70" fill="#fff"/><polygon points="323.72,522.00 333.59,527.70 333.59,539.10 323.72,544.80 323.72,544.80 323.72,522.00" fill="#4a006c"/><polygon points="323.72,522.00 333.59,527.70 333.59,539.10 323.72,544.80 313.85,539.10 313.85,527.70" fill="none" stroke="#4a006c" stroke-width="1.60" stroke-linejoin="miter"/>
<polygon points="338.16,522.00 348.03,527.70 348.03,539.10 338.16,544.80 328.29,539.10 328.29,527.70" fill="#fff"/><polygon points="338.16,522.00 348.03,527.70 348.03,539.10 338.16,544.80 338.16,544.80 338.16,522.00" fill="#4a006c"/><polygon points="338.16,522.00 348.03,527.70 348.03,539.10 338.16,544.80 328.29,539.10 328.29,527.70" fill="none" stroke="#4a006c" stroke-width="1.60" stroke-linejoin="miter"/>
<polygon points="352.60,522.00 362.47,527.70 362.47,539.10 352.60,544.80 342.73,539.10 342.73,527.70" fill="#fff"/><polygon points="352.60,522.00 362.47,527.70 362.47,539.10 352.60,544.80 352.60,544.80 352.60,522.00" fill="#4a006c"/><polygon points="352.60,522.00 362.47,527.70 362.47,539.10 352.60,544.80 342.73,539.10 342.73,527.70" fill="none" stroke="#4a006c" stroke-width="1.60" stroke-linejoin="miter"/>
<polygon points="367.04,522.00 376.91,527.70 376.91,539.10 367.04,544.80 357.17,539.10 357.17,527.70" fill="#fff"/><polygon points="367.04,522.00 376.91,527.70 376.91,539.10 367.04,544.80 367.04,544.80 367.04,522.00" fill="#4a006c"/><polygon points="367.04,522.00 376.91,527.70 376.91,539.10 367.04,544.80 357.17,539.10 357.17,527.70" fill="none" stroke="#4a006c" stroke-width="1.60" stroke-linejoin="miter"/>
<polygon points="381.48,522.00 391.35,527.70 391.35,539.10 381.48,544.80 371.61,539.10 371.61,527.70" fill="#fff"/><polygon points="381.48,522.00 391.35,527.70 391.35,539.10 381.48,544.80 381.48,544.80 381.48,522.00" fill="#4a006c"/><polygon points="381.48,522.00 391.35,527.70 391.35,539.10 381.48,544.80 371.61,539.10 371.61,527.70" fill="none" stroke="#4a006c" stroke-width="1.60" stroke-linejoin="miter"/>
<polygon points="395.92,522.00 405.79,527.70 405.79,539.10 395.92,544.80 386.05,539.10 386.05,527.70" fill="#fff"/><polygon points="395.92,522.00 405.79,527.70 405.79,539.10 395.92,544.80 395.92,544.80 395.92,522.00" fill="#4a006c"/><polygon points="395.92,522.00 405.79,527.70 405.79,539.10 395.92,544.80 386.05,539.10 386.05,527.70" fill="none" stroke="#4a006c" stroke-width="1.60" stroke-linejoin="miter"/>
<polygon points="410.36,522.00 420.23,527.70 420.23,539.10 410.36,544.80 400.49,539.10 400.49,527.70" fill="#fff"/><polygon points="410.36,522.00 420.23,527.70 420.23,539.10 410.36,544.80 410.36,544.80 410.36,522.00" fill="#4a006c"/><polygon points="410.36,522.00 420.23,527.70 420.23,539.10 410.36,544.80 400.49,539.10 400.49,527.70" fill="none" stroke="#4a006c" stroke-width="1.60" stroke-linejoin="miter"/>
<polygon points="424.80,522.00 434.67,527.70 434.67,539.10 424.80,544.80 414.93,539.10 414.93,527.70" fill="#fff"/><polygon points="424.80,522.00 434.67,527.70 434.67,539.10 424.80,544.80 424.80,544.80 424.80,522.00" fill="#4a006c"/><polygon points="424.80,522.00 434.67,527.70 434.67,539.10 424.80,544.80 414.93,539.10 414.93,527.70" fill="none" stroke="#4a006c" stroke-width="1.60" stroke-linejoin="miter"/>
<polygon points="439.24,522.00 449.11,527.70 449.11,539.10 439.24,544.80 429.37,539.10 429.37,527.70" fill="#fff"/><polygon points="439.24,522.00 449.11,527.70 449.11,539.10 439.24,544.80 439.24,544.80 439.24,522.00" fill="#4a006c"/><polygon points="439.24,522.00 449.11,527.70 449.11,539.10 439.24,544.80 429.37,539.10 429.37,527.70" fill="none" stroke="#4a006c" stroke-width="1.60" stroke-linejoin="miter"/>
<polygon points="453.68,522.00 463.55,527.70 463.55,539.10 453.68,544.80 443.81,539.10 443.81,527.70" fill="#fff"/><polygon points="453.68,522.00 463.55,527.70 463.55,539.10 453.68,544.80 453.68,544.80 453.68,522.00" fill="#4a006c"/><polygon points="453.68,522.00 463.55,527.70 463.55,539.10 453.68,544.80 443.81,539.10 443.81,527.70" fill="none" stroke="#4a006c" stroke-width="1.60" stroke-linejoin="miter"/>
<polygon points="468.12,522.00 477.99,527.70 477.99,539.10 468.12,544.80 458.25,539.10 458.25,527.70" fill="#fff"/><polygon points="468.12,522.00 477.99,527.70 477.99,539.10 468.12,544.80 468.12,544.80 468.12,522.00" fill="#4a006c"/><polygon points="468.12,522.00 477.99,527.70 477.99,539.10 468.12,544.80 458.25,539.10 458.25,527.70" fill="none" stroke="#4a006c" stroke-width="1.60" stroke-linejoin="miter"/>
<polygon points="482.56,522.00 492.43,527.70 492.43,539.10 482.56,544.80 472.69,539.10 472.69,527.70" fill="#fff"/><polygon points="482.56,522.00 492.43,527.70 492.43,539.10 482.56,544.80 482.56,544.80 482.56,522.00" fill="#4a006c"/><polygon points="482.56,522.00 492.43,527.70 492.43,539.10 482.56,544.80 472.69,539.10 472.69,527.70" fill="none" stroke="#4a006c" stroke-width="1.60" stroke-linejoin="miter"/>
<polygon points="497.00,522.00 506.87,527.70 506.87,539.10 497.00,544.80 487.13,539.10 487.13,527.70" fill="#fff"/><polygon points="497.00,522.00 506.87,527.70 506.87,539.10 497.00,544.80 497.00,544.80 497.00,522.00" fill="#4a006c"/><polygon points="497.00,522.00 506.87,527.70 506.87,539.10 497.00,544.80 487.13,539.10 487.13,527.70" fill="none" stroke="#4a006c" stroke-width="1.60" stroke-linejoin="miter"/>
<polygon points="511.44,522.00 521.31,527.70 521.31,539.10 511.44,544.80 501.57,539.10 501.57,527.70" fill="#fff"/><polygon points="511.44,522.00 521.31,527.70 521.31,539.10 511.44,544.80 511.44,544.80 511.44,522.00" fill="#4a006c"/><polygon points="511.44,522.00 521.31,527.70 521.31,539.10 511.44,544.80 501.57,539.10 501.57,527.70" fill="none" stroke="#4a006c" stroke-width="1.60" stroke-linejoin="miter"/>
<polygon points="525.88,522.00 535.75,527.70 535.75,539.10 525.88,544.80 516.01,539.10 516.01,527.70" fill="#fff"/><polygon points="525.88,522.00 535.75,527.70 535.75,539.10 525.88,544.80 525.88,544.80 525.88,522.00" fill="#4a006c"/><polygon points="525.88,522.00 535.75,527.70 535.75,539.10 525.88,544.80 516.01,539.10 516.01,527.70" fill="none" stroke="#4a006c" stroke-width="1.60" stroke-linejoin="miter"/>
<polygon points="540.32,522.00 550.19,527.70 550.19,539.10 540.32,544.80 530.45,539.10 530.45,527.70" fill="#fff"/><polygon points="540.32,522.00 550.19,527.70 550.19,539.10 540.32,544.80 540.32,544.80 540.32,522.00" fill="#4a006c"/><polygon points="540.32,522.00 550.19,527.70 550.19,539.10 540.32,544.80 530.45,539.10 530.45,527.70" fill="none" stroke="#4a006c" stroke-width="1.60" stroke-linejoin="miter"/>
<polygon points="554.76,521.99 564.63,527.69 564.63,539.09 554.76,544.79 544.89,539.09 544.89,527.69" fill="#fff"/><polygon points="554.76,521.99 564.63,527.69 564.63,539.09 554.76,544.79 554.76,544.79 554.76,521.99" fill="#4a006c"/><polygon points="554.76,521.99 564.63,527.69 564.63,539.09 554.76,544.79 544.89,539.09 544.89,527.69" fill="none" stroke="#4a006c" stroke-width="1.60" stroke-linejoin="miter"/>
<polygon points="569.20,521.99 579.07,527.69 579.07,539.09 569.20,544.79 559.33,539.09 559.33,527.69" fill="#fff"/><polygon points="569.20,521.99 579.07,527.69 579.07,539.09 569.20,544.79 569.20,544.79 569.20,521.99" fill="#4a006c"/><polygon points="569.20,521.99 579.07,527.69 579.07,539.09 569.20,544.79 559.33,539.09 559.33,527.69" fill="none" stroke="#4a006c" stroke-width="1.60" stroke-linejoin="miter"/>
<polygon points="583.64,521.98 593.51,527.68 593.51,539.08 583.64,544.78 573.77,539.08 573.77,527.68" fill="#fff"/><polygon points="583.64,521.98 593.51,527.68 593.51,539.08 583.64,544.78 583.64,544.78 583.64,521.98" fill="#4a006c"/><polygon points="583.64,521.98 593.51,527.68 593.51,539.08 583.64,544.78 573.77,539.08 573.77,527.68" fill="none" stroke="#4a006c" stroke-width="1.60" stroke-linejoin="miter"/>
<polygon points="598.08,521.95 607.95,527.65 607.95,539.05 598.08,544.75 588.21,539.05 588.21,527.65" fill="#fff"/><polygon points="598.08,521.95 607.95,527.65 607.95,539.05 598.08,544.75 598.08,544.75 598.08,521.95" fill="#4a006c"/><polygon points="598.08,521.95 607.95,527.65 607.95,539.05 598.08,544.75 588.21,539.05 588.21,527.65" fill="none" stroke="#4a006c" stroke-width="1.60" stroke-linejoin="miter"/>
<polygon points="612.52,521.90 622.39,527.60 622.39,539.00 612.52,544.70 602.65,539.00 602.65,527.60" fill="#fff"/><polygon points="612.52,521.90 622.39,527.60 622.39,539.00 612.52,544.70 612.52,544.70 612.52,521.90" fill="#4a006c"/><polygon points="612.52,521.90 622.39,527.60 622.39,539.00 612.52,544.70 602.65,539.00 602.65,527.60" fill="none" stroke="#4a006c" stroke-width="1.60" stroke-linejoin="miter"/>
<polygon points="626.96,521.80 636.83,527.50 636.83,538.90 626.96,544.60 617.09,538.90 617.09,527.50" fill="#fff"/><polygon points="626.96,521.80 636.83,527.50 636.83,538.90 626.96,544.60 626.96,544.60 626.96,521.80" fill="#4a006c"/><polygon points="626.96,521.80 636.83,527.50 636.83,538.90 626.96,544.60 617.09,538.90 617.09,527.50" fill="none" stroke="#4a006c" stroke-width="1.60" stroke-linejoin="miter"/>
<polygon points="641.40,521.58 651.27,527.28 651.27,538.68 641.40,544.38 631.53,538.68 631.53,527.28" fill="#fff"/><polygon points="641.40,521.58 651.27,527.28 651.27,538.68 641.40,544.38 641.40,544.38 641.40,521.58" fill="#4a006c"/><polygon points="641.40,521.58 651.27,527.28 651.27,538.68 641.40,544.38 631.53,538.68 631.53,527.28" fill="none" stroke="#4a006c" stroke-width="1.60" stroke-linejoin="miter"/>
<polygon points="655.84,521.12 665.71,526.82 665.71,538.22 655.84,543.92 645.97,538.22 645.97,526.82" fill="#fff"/><polygon points="655.84,521.12 665.71,526.82 665.71,538.22 655.84,543.92 655.84,543.92 655.84,521.12" fill="#4a006c"/><polygon points="655.84,521.12 665.71,526.82 665.71,538.22 655.84,543.92 645.97,538.22 645.97,526.82" fill="none" stroke="#4a006c" stroke-width="1.60" stroke-linejoin="miter"/>
<polygon points="670.28,520.16 680.15,525.86 680.15,537.26 670.28,542.96 660.41,537.26 660.41,525.86" fill="#fff"/><polygon points="670.28,520.16 680.15,525.86 680.15,537.26 670.28,542.96 670.28,542.96 670.28,520.16" fill="#4a006c"/><polygon points="670.28,520.16 680.15,525.86 680.15,537.26 670.28,542.96 660.41,537.26 660.41,525.86" fill="none" stroke="#4a006c" stroke-width="1.60" stroke-linejoin="miter"/>
<polygon points="684.72,516.87 694.59,522.57 694.59,533.97 684.72,539.67 674.85,533.97 674.85,522.57" fill="#fff"/><polygon points="684.72,516.87 694.59,522.57 694.59,533.97 684.72,539.67 684.72,539.67 684.72,516.87" fill="#4a006c"/><polygon points="684.72,516.87 694.59,522.57 694.59,533.97 684.72,539.67 674.85,533.97 674.85,522.57" fill="none" stroke="#4a006c" stroke-width="1.60" stroke-linejoin="miter"/>
<polygon points="699.16,510.29 709.03,515.99 709.03,527.39 699.16,533.09 689.29,527.39 689.29,515.99" fill="#fff"/><polygon points="699.16,510.29 709.03,515.99 709.03,527.39 699.16,533.09 699.16,533.09 699.16,510.29" fill="#4a006c"/><polygon points="699.16,510.29 709.03,515.99 709.03,527.39 699.16,533.09 689.29,527.39 689.29,515.99" fill="none" stroke="#4a006c" stroke-width="1.60" stroke-linejoin="miter"/>
<polygon points="713.60,497.13 723.47,502.83 723.47,514.23 713.60,519.93 703.73,514.23 703.73,502.83" fill="#fff"/><polygon points="713.60,497.13 723.47,502.83 723.47,514.23 713.60,519.93 713.60,519.93 713.60,497.13" fill="#4a006c"/><polygon points="713.60,497.13 723.47,502.83 723.47,514.23 713.60,519.93 703.73,514.23 703.73,502.83" fill="none" stroke="#4a006c" stroke-width="1.60" stroke-linejoin="miter"/>
<polygon points="728.04,472.78 737.91,478.48 737.91,489.88 728.04,495.58 718.17,489.88 718.17,478.48" fill="#fff"/><polygon points="728.04,472.78 737.91,478.48 737.91,489.88 728.04,495.58 728.04,495.58 728.04,472.78" fill="#4a006c"/><polygon points="728.04,472.78 737.91,478.48 737.91,489.88 728.04,495.58 718.17,489.88 718.17,478.48" fill="none" stroke="#4a006c" stroke-width="1.60" stroke-linejoin="miter"/>
<polygon points="742.48,428.04 752.35,433.74 752.35,445.14 742.48,450.84 732.61,445.14 732.61,433.74" fill="#fff"/><polygon points="742.48,428.04 752.35,433.74 752.35,445.14 742.48,450.84 742.48,450.84 742.48,428.04" fill="#4a006c"/><polygon points="742.48,428.04 752.35,433.74 752.35,445.14 742.48,450.84 732.61,445.14 732.61,433.74" fill="none" stroke="#4a006c" stroke-width="1.60" stroke-linejoin="miter"/>
<polygon points="756.92,345.79 766.79,351.49 766.79,362.89 756.92,368.59 747.05,362.89 747.05,351.49" fill="#fff"/><polygon points="756.92,345.79 766.79,351.49 766.79,362.89 756.92,368.59 756.92,368.59 756.92,345.79" fill="#4a006c"/><polygon points="756.92,345.79 766.79,351.49 766.79,362.89 756.92,368.59 747.05,362.89 747.05,351.49" fill="none" stroke="#4a006c" stroke-width="1.60" stroke-linejoin="miter"/>
<polygon points="771.36,206.29 781.23,211.99 781.23,223.39 771.36,229.09 761.49,223.39 761.49,211.99" fill="#fff"/><polygon points="771.36,206.29 781.23,211.99 781.23,223.39 771.36,229.09 771.36,229.09 771.36,206.29" fill="#4a006c"/><polygon points="771.36,206.29 781.23,211.99 781.23,223.39 771.36,229.09 761.49,223.39 761.49,211.99" fill="none" stroke="#4a006c" stroke-width="1.60" stroke-linejoin="miter"/>
<polygon points="785.80,-15.46 795.67,-9.76 795.67,1.64 785.80,7.34 775.93,1.64 775.93,-9.76" fill="#fff"/><polygon points="785.80,-15.46 795.67,-9.76 795.67,1.64 785.80,7.34 785.80,7.34 785.80,-15.46" fill="#4a006c"/><polygon points="785.80,-15.46 795.67,-9.76 795.67,1.64 785.80,7.34 775.93,1.64 775.93,-9.76" fill="none" stroke="#4a006c" stroke-width="1.60" stroke-linejoin="miter"/>
<polyline points="136.00,536.82 150.44,536.82 164.88,536.82 179.32,536.82 193.76,536.82 208.20,536.82 222.64,536.82 237.08,536.82 251.52,536.82 265.96,536.82 280.40,536.82 294.84,536.82 309.28,536.82 323.72,536.82 338.16,536.82 352.60,536.82 367.04,536.82 381.48,536.82 395.92,536.82 410.36,536.82 424.80,536.82 439.24,536.82 453.68,536.82 468.12,536.82 482.56,536.82 497.00,536.82 511.44,536.82 525.88,536.82 540.32,536.82 554.76,536.81 569.20,536.81 583.64,536.79 598.08,536.76 612.52,536.68 626.96,536.53 641.40,536.22 655.84,535.57 670.28,534.19 684.72,530.24 699.16,524.98 713.60,515.76 728.04,492.08 742.48,451.28 756.92,373.64 771.36,232.82 785.80,9.37" fill="none" stroke="#800000" stroke-width="0.75"/>
<polygon points="136.00,524.82 147.41,533.11 143.05,546.53 128.95,546.53 124.59,533.11" fill="#fff"/><polygon points="136.00,524.82 147.41,533.11 143.05,546.53 136.00,546.53 136.00,524.82" fill="#800000"/><polygon points="136.00,524.82 147.41,533.11 143.05,546.53 128.95,546.53 124.59,533.11" fill="none" stroke="#800000" stroke-width="1.60" stroke-linejoin="miter"/>
<polygon points="150.44,524.82 161.85,533.11 157.49,546.53 143.39,546.53 139.03,533.11" fill="#fff"/><polygon points="150.44,524.82 161.85,533.11 157.49,546.53 150.44,546.53 150.44,524.82" fill="#800000"/><polygon points="150.44,524.82 161.85,533.11 157.49,546.53 143.39,546.53 139.03,533.11" fill="none" stroke="#800000" stroke-width="1.60" stroke-linejoin="miter"/>
<polygon points="164.88,524.82 176.29,533.11 171.93,546.53 157.83,546.53 153.47,533.11" fill="#fff"/><polygon points="164.88,524.82 176.29,533.11 171.93,546.53 164.88,546.53 164.88,524.82" fill="#800000"/><polygon points="164.88,524.82 176.29,533.11 171.93,546.53 157.83,546.53 153.47,533.11" fill="none" stroke="#800000" stroke-width="1.60" stroke-linejoin="miter"/>
<polygon points="179.32,524.82 190.73,533.11 186.37,546.53 172.27,546.53 167.91,533.11" fill="#fff"/><polygon points="179.32,524.82 190.73,533.11 186.37,546.53 179.32,546.53 179.32,524.82" fill="#800000"/><polygon points="179.32,524.82 190.73,533.11 186.37,546.53 172.27,546.53 167.91,533.11" fill="none" stroke="#800000" stroke-width="1.60" stroke-linejoin="miter"/>
<polygon points="193.76,524.82 205.17,533.11 200.81,546.53 186.71,546.53 182.35,533.11" fill="#fff"/><polygon points="193.76,524.82 205.17,533.11 200.81,546.53 193.76,546.53 193.76,524.82" fill="#800000"/><polygon points="193.76,524.82 205.17,533.11 200.81,546.53 186.71,546.53 182.35,533.11" fill="none" stroke="#800000" stroke-width="1.60" stroke-linejoin="miter"/>
<polygon points="208.20,524.82 219.61,533.11 215.25,546.53 201.15,546.53 196.79,533.11" fill="#fff"/><polygon points="208.20,524.82 219.61,533.11 215.25,546.53 208.20,546.53 208.20,524.82" fill="#800000"/><polygon points="208.20,524.82 219.61,533.11 215.25,546.53 201.15,546.53 196.79,533.11" fill="none" stroke="#800000" stroke-width="1.60" stroke-linejoin="miter"/>
<polygon points="222.64,524.82 234.05,533.11 229.69,546.53 215.59,546.53 211.23,533.11" fill="#fff"/><polygon points="222.64,524.82 234.05,533.11 229.69,546.53 222.64,546.53 222.64,524.82" fill="#800000"/><polygon points="222.64,524.82 234.05,533.11 229.69,546.53 215.59,546.53 211.23,533.11" fill="none" stroke="#800000" stroke-width="1.60" stroke-linejoin="miter"/>
<polygon points="237.08,524.82 248.49,533.11 244.13,546.53 230.03,546.53 225.67,533.11" fill="#fff"/><polygon points="237.08,524.82 248.49,533.11 244.13,546.53 237.08,546.53 237.08,524.82" fill="#800000"/><polygon points="237.08,524.82 248.49,533.11 244.13,546.53 230.03,546.53 225.67,533.11" fill="none" stroke="#800000" stroke-width="1.60" stroke-linejoin="miter"/>
<polygon points="251.52,524.82 262.93,533.11 258.57,546.53 244.47,546.53 240.11,533.11" fill="#fff"/><polygon points="251.52,524.82 262.93,533.11 258.57,546.53 251.52,546.53 251.52,524.82" fill="#800000"/><polygon points="251.52,524.82 262.93,533.11 258.57,546.53 244.47,546.53 240.11,533.11" fill="none" stroke="#800000" stroke-width="1.60" stroke-linejoin="miter"/>
<polygon points="265.96,524.82 277.37,533.11 273.01,546.53 258.91,546.53 254.55,533.11" fill="#fff"/><polygon points="265.96,524.82 277.37,533.11 273.01,546.53 265.96,546.53 265.96,524.82" fill="#800000"/><polygon points="265.96,524.82 277.37,533.11 273.01,546.53 258.91,546.53 254.55,533.11" fill="none" stroke="#800000" stroke-width="1.60" stroke-linejoin="miter"/>
<polygon points="280.40,524.82 291.81,533.11 287.45,546.53 273.35,546.53 268.99,533.11" fill="#fff"/><polygon points="280.40,524.82 291.81,533.11 287.45,546.53 280.40,546.53 280.40,524.82" fill="#800000"/><polygon points="280.40,524.82 291.81,533.11 287.45,546.53 273.35,546.53 268.99,533.11" fill="none" stroke="#800000" stroke-width="1.60" stroke-linejoin="miter"/>
<polygon points="294.84,524.82 306.25,533.11 301.89,546.53 287.79,546.53 283.43,533.11" fill="#fff"/><polygon points="294.84,524.82 306.25,533.11 301.89,546.53 294.84,546.53 294.84,524.82" fill="#800000"/><polygon points="294.84,524.82 306.25,533.11 301.89,546.53 287.79,546.53 283.43,533.11" fill="none" stroke="#800000" stroke-width="1.60" stroke-linejoin="miter"/>
<polygon points="309.28,524.82 320.69,533.11 316.33,546.53 302.23,546.53 297.87,533.11" fill="#fff"/><polygon points="309.28,524.82 320.69,533.11 316.33,546.53 309.28,546.53 309.28,524.82" fill="#800000"/><polygon points="309.28,524.82 320.69,533.11 316.33,546.53 302.23,546.53 297.87,533.11" fill="none" stroke="#800000" stroke-width="1.60" stroke-linejoin="miter"/>
<polygon points="323.72,524.82 335.13,533.11 330.77,546.53 316.67,546.53 312.31,533.11" fill="#fff"/><polygon points="323.72,524.82 335.13,533.11 330.77,546.53 323.72,546.53 323.72,524.82" fill="#800000"/><polygon points="323.72,524.82 335.13,533.11 330.77,546.53 316.67,546.53 312.31,533.11" fill="none" stroke="#800000" stroke-width="1.60" stroke-linejoin="miter"/>
<polygon points="338.16,524.82 349.57,533.11 345.21,546.53 331.11,546.53 326.75,533.11" fill="#fff"/><polygon points="338.16,524.82 349.57,533.11 345.21,546.53 338.16,546.53 338.16,524.82" fill="#800000"/><polygon points="338.16,524.82 349.57,533.11 345.21,546.53 331.11,546.53 326.75,533.11" fill="none" stroke="#800000" stroke-width="1.60" stroke-linejoin="miter"/>
<polygon points="352.60,524.82 364.01,533.11 359.65,546.53 345.55,546.53 341.19,533.11" fill="#fff"/><polygon points="352.60,524.82 364.01,533.11 359.65,546.53 352.60,546.53 352.60,524.82" fill="#800000"/><polygon points="352.60,524.82 364.01,533.11 359.65,546.53 345.55,546.53 341.19,533.11" fill="none" stroke="#800000" stroke-width="1.60" stroke-linejoin="miter"/>
<polygon points="367.04,524.82 378.45,533.11 374.09,546.53 359.99,546.53 355.63,533.11" fill="#fff"/><polygon points="367.04,524.82 378.45,533.11 374.09,546.53 367.04,546.53 367.04,524.82" fill="#800000"/><polygon points="367.04,524.82 378.45,533.11 374.09,546.53 359.99,546.53 355.63,533.11" fill="none" stroke="#800000" stroke-width="1.60" stroke-linejoin="miter"/>
<polygon points="381.48,524.82 392.89,533.11 388.53,546.53 374.43,546.53 370.07,533.11" fill="#fff"/><polygon points="381.48,524.82 392.89,533.11 388.53,546.53 381.48,546.53 381.48,524.82" fill="#800000"/><polygon points="381.48,524.82 392.89,533.11 388.53,546.53 374.43,546.53 370.07,533.11" fill="none" stroke="#800000" stroke-width="1.60" stroke-linejoin="miter"/>
<polygon points="395.92,524.82 407.33,533.11 402.97,546.53 388.87,546.53 384.51,533.11" fill="#fff"/><polygon points="395.92,524.82 407.33,533.11 402.97,546.53 395.92,546.53 395.92,524.82" fill="#800000"/><polygon points="395.92,524.82 407.33,533.11 402.97,546.53 388.87,546.53 384.51,533.11" fill="none" stroke="#800000" stroke-width="1.60" stroke-linejoin="miter"/>
<polygon points="410.36,524.82 421.77,533.11 417.41,546.53 403.31,546.53 398.95,533.11" fill="#fff"/><polygon points="410.36,524.82 421.77,533.11 417.41,546.53 410.36,546.53 410.36,524.82" fill="#800000"/><polygon points="410.36,524.82 421.77,533.11 417.41,546.53 403.31,546.53 398.95,533.11" fill="none" stroke="#800000" stroke-width="1.60" stroke-linejoin="miter"/>
<polygon points="424.80,524.82 436.21,533.11 431.85,546.53 417.75,546.53 413.39,533.11" fill="#fff"/><polygon points="424.80,524.82 436.21,533.11 431.85,546.53 424.80,546.53 424.80,524.82" fill="#800000"/><polygon points="424.80,524.82 436.21,533.11 431.85,546.53 417.75,546.53 413.39,533.11" fill="none" stroke="#800000" stroke-width="1.60" stroke-linejoin="miter"/>
<polygon points="439.24,524.82 450.65,533.11 446.29,546.53 432.19,546.53 427.83,533.11" fill="#fff"/><polygon points="439.24,524.82 450.65,533.11 446.29,546.53 439.24,546.53 439.24,524.82" fill="#800000"/><polygon points="439.24,524.82 450.65,533.11 446.29,546.53 432.19,546.53 427.83,533.11" fill="none" stroke="#800000" stroke-width="1.60" stroke-linejoin="miter"/>
<polygon points="453.68,524.82 465.09,533.11 460.73,546.53 446.63,546.53 442.27,533.11" fill="#fff"/><polygon points="453.68,524.82 465.09,533.11 460.73,546.53 453.68,546.53 453.68,524.82" fill="#800000"/><polygon points="453.68,524.82 465.09,533.11 460.73,546.53 446.63,546.53 442.27,533.11" fill="none" stroke="#800000" stroke-width="1.60" stroke-linejoin="miter"/>
<polygon points="468.12,524.82 479.53,533.11 475.17,546.53 461.07,546.53 456.71,533.11" fill="#fff"/><polygon points="468.12,524.82 479.53,533.11 475.17,546.53 468.12,546.53 468.12,524.82" fill="#800000"/><polygon points="468.12,524.82 479.53,533.11 475.17,546.53 461.07,546.53 456.71,533.11" fill="none" stroke="#800000" stroke-width="1.60" stroke-linejoin="miter"/>
<polygon points="482.56,524.82 493.97,533.11 489.61,546.53 475.51,546.53 471.15,533.11" fill="#fff"/><polygon points="482.56,524.82 493.97,533.11 489.61,546.53 482.56,546.53 482.56,524.82" fill="#800000"/><polygon points="482.56,524.82 493.97,533.11 489.61,546.53 475.51,546.53 471.15,533.11" fill="none" stroke="#800000" stroke-width="1.60" stroke-linejoin="miter"/>
<polygon points="497.00,524.82 508.41,533.11 504.05,546.53 489.95,546.53 485.59,533.11" fill="#fff"/><polygon points="497.00,524.82 508.41,533.11 504.05,546.53 497.00,546.53 497.00,524.82" fill="#800000"/><polygon points="497.00,524.82 508.41,533.11 504.05,546.53 489.95,546.53 485.59,533.11" fill="none" stroke="#800000" stroke-width="1.60" stroke-linejoin="miter"/>
<polygon points="511.44,524.82 522.85,533.11 518.49,546.53 504.39,546.53 500.03,533.11" fill="#fff"/><polygon points="511.44,524.82 522.85,533.11 518.49,546.53 511.44,546.53 511.44,524.82" fill="#800000"/><polygon points="511.44,524.82 522.85,533.11 518.49,546.53 504.39,546.53 500.03,533.11" fill="none" stroke="#800000" stroke-width="1.60" stroke-linejoin="miter"/>
<polygon points="525.88,524.82 537.29,533.11 532.93,546.53 518.83,546.53 514.47,533.11" fill="#fff"/><polygon points="525.88,524.82 537.29,533.11 532.93,546.53 525.88,546.53 525.88,524.82" fill="#800000"/><polygon points="525.88,524.82 537.29,533.11 532.93,546.53 518.83,546.53 514.47,533.11" fill="none" stroke="#800000" stroke-width="1.60" stroke-linejoin="miter"/>
<polygon points="540.32,524.82 551.73,533.11 547.37,546.52 533.27,546.52 528.91,533.11" fill="#fff"/><polygon points="540.32,524.82 551.73,533.11 547.37,546.52 540.32,546.52 540.32,524.82" fill="#800000"/><polygon points="540.32,524.82 551.73,533.11 547.37,546.52 533.27,546.52 528.91,533.11" fill="none" stroke="#800000" stroke-width="1.60" stroke-linejoin="miter"/>
<polygon points="554.76,524.81 566.17,533.10 561.81,546.52 547.71,546.52 543.35,533.10" fill="#fff"/><polygon points="554.76,524.81 566.17,533.10 561.81,546.52 554.76,546.52 554.76,524.81" fill="#800000"/><polygon points="554.76,524.81 566.17,533.10 561.81,546.52 547.71,546.52 543.35,533.10" fill="none" stroke="#800000" stroke-width="1.60" stroke-linejoin="miter"/>
<polygon points="569.20,524.81 580.61,533.10 576.25,546.51 562.15,546.51 557.79,533.10" fill="#fff"/><polygon points="569.20,524.81 580.61,533.10 576.25,546.51 569.20,546.51 569.20,524.81" fill="#800000"/><polygon points="569.20,524.81 580.61,533.10 576.25,546.51 562.15,546.51 557.79,533.10" fill="none" stroke="#800000" stroke-width="1.60" stroke-linejoin="miter"/>
<polygon points="583.64,524.79 595.05,533.08 590.69,546.50 576.59,546.50 572.23,533.08" fill="#fff"/><polygon points="583.64,524.79 595.05,533.08 590.69,546.50 583.64,546.50 583.64,524.79" fill="#800000"/><polygon points="583.64,524.79 595.05,533.08 590.69,546.50 576.59,546.50 572.23,533.08" fill="none" stroke="#800000" stroke-width="1.60" stroke-linejoin="miter"/>
<polygon points="598.08,524.76 609.49,533.05 605.13,546.46 591.03,546.46 586.67,533.05" fill="#fff"/><polygon points="598.08,524.76 609.49,533.05 605.13,546.46 598.08,546.46 598.08,524.76" fill="#800000"/><polygon points="598.08,524.76 609.49,533.05 605.13,546.46 591.03,546.46 586.67,533.05" fill="none" stroke="#800000" stroke-width="1.60" stroke-linejoin="miter"/>
<polygon points="612.52,524.68 623.93,532.98 619.57,546.39 605.47,546.39 601.11,532.98" fill="#fff"/><polygon points="612.52,524.68 623.93,532.98 619.57,546.39 612.52,546.39 612.52,524.68" fill="#800000"/><polygon points="612.52,524.68 623.93,532.98 619.57,546.39 605.47,546.39 601.11,532.98" fill="none" stroke="#800000" stroke-width="1.60" stroke-linejoin="miter"/>
<polygon points="626.96,524.53 638.37,532.83 634.01,546.24 619.91,546.24 615.55,532.83" fill="#fff"/><polygon points="626.96,524.53 638.37,532.83 634.01,546.24 626.96,546.24 626.96,524.53" fill="#800000"/><polygon points="626.96,524.53 638.37,532.83 634.01,546.24 619.91,546.24 615.55,532.83" fill="none" stroke="#800000" stroke-width="1.60" stroke-linejoin="miter"/>
<polygon points="641.40,524.22 652.81,532.51 648.45,545.93 634.35,545.93 629.99,532.51" fill="#fff"/><polygon points="641.40,524.22 652.81,532.51 648.45,545.93 641.40,545.93 641.40,524.22" fill="#800000"/><polygon points="641.40,524.22 652.81,532.51 648.45,545.93 634.35,545.93 629.99,532.51" fill="none" stroke="#800000" stroke-width="1.60" stroke-linejoin="miter"/>
<polygon points="655.84,523.57 667.25,531.86 662.89,545.27 648.79,545.27 644.43,531.86" fill="#fff"/><polygon points="655.84,523.57 667.25,531.86 662.89,545.27 655.84,545.27 655.84,523.57" fill="#800000"/><polygon points="655.84,523.57 667.25,531.86 662.89,545.27 648.79,545.27 644.43,531.86" fill="none" stroke="#800000" stroke-width="1.60" stroke-linejoin="miter"/>
<polygon points="670.28,522.19 681.69,530.48 677.33,543.90 663.23,543.90 658.87,530.48" fill="#fff"/><polygon points="670.28,522.19 681.69,530.48 677.33,543.90 670.28,543.90 670.28,522.19" fill="#800000"/><polygon points="670.28,522.19 681.69,530.48 677.33,543.90 663.23,543.90 658.87,530.48" fill="none" stroke="#800000" stroke-width="1.60" stroke-linejoin="miter"/>
<polygon points="684.72,518.24 696.13,526.53 691.77,539.95 677.67,539.95 673.31,526.53" fill="#fff"/><polygon points="684.72,518.24 696.13,526.53 691.77,539.95 684.72,539.95 684.72,518.24" fill="#800000"/><polygon points="684.72,518.24 696.13,526.53 691.77,539.95 677.67,539.95 673.31,526.53" fill="none" stroke="#800000" stroke-width="1.60" stroke-linejoin="miter"/>
<polygon points="699.16,512.98 710.57,521.27 706.21,534.68 692.11,534.68 687.75,521.27" fill="#fff"/><polygon points="699.16,512.98 710.57,521.27 706.21,534.68 699.16,534.68 699.16,512.98" fill="#800000"/><polygon points="699.16,512.98 710.57,521.27 706.21,534.68 692.11,534.68 687.75,521.27" fill="none" stroke="#800000" stroke-width="1.60" stroke-linejoin="miter"/>
<polygon points="713.60,503.76 725.01,512.06 720.65,525.47 706.55,525.47 702.19,512.06" fill="#fff"/><polygon points="713.60,503.76 725.01,512.06 720.65,525.47 713.60,525.47 713.60,503.76" fill="#800000"/><polygon points="713.60,503.76 725.01,512.06 720.65,525.47 706.55,525.47 702.19,512.06" fill="none" stroke="#800000" stroke-width="1.60" stroke-linejoin="miter"/>
<polygon points="728.04,480.08 739.45,488.37 735.09,501.78 720.99,501.78 716.63,488.37" fill="#fff"/><polygon points="728.04,480.08 739.45,488.37 735.09,501.78 728.04,501.78 728.04,480.08" fill="#800000"/><polygon points="728.04,480.08 739.45,488.37 735.09,501.78 720.99,501.78 716.63,488.37" fill="none" stroke="#800000" stroke-width="1.60" stroke-linejoin="miter"/>
<polygon points="742.48,439.28 753.89,447.57 749.53,460.99 735.43,460.99 731.07,447.57" fill="#fff"/><polygon points="742.48,439.28 753.89,447.57 749.53,460.99 742.48,460.99 742.48,439.28" fill="#800000"/><polygon points="742.48,439.28 753.89,447.57 749.53,460.99 735.43,460.99 731.07,447.57" fill="none" stroke="#800000" stroke-width="1.60" stroke-linejoin="miter"/>
<polygon points="756.92,361.64 768.33,369.93 763.97,383.34 749.87,383.34 745.51,369.93" fill="#fff"/><polygon points="756.92,361.64 768.33,369.93 763.97,383.34 756.92,383.34 756.92,361.64" fill="#800000"/><polygon points="756.92,361.64 768.33,369.93 763.97,383.34 749.87,383.34 745.51,369.93" fill="none" stroke="#800000" stroke-width="1.60" stroke-linejoin="miter"/>
<polygon points="771.36,220.82 782.77,229.12 778.41,242.53 764.31,242.53 759.95,229.12" fill="#fff"/><polygon points="771.36,220.82 782.77,229.12 778.41,242.53 771.36,242.53 771.36,220.82" fill="#800000"/><polygon points="771.36,220.82 782.77,229.12 778.41,242.53 764.31,242.53 759.95,229.12" fill="none" stroke="#800000" stroke-width="1.60" stroke-linejoin="miter"/>
<polygon points="785.80,-2.63 797.21,5.66 792.85,19.08 778.75,19.08 774.39,5.66" fill="#fff"/><polygon points="785.80,-2.63 797.21,5.66 792.85,19.08 785.80,19.08 785.80,-2.63" fill="#800000"/><polygon points="785.80,-2.63 797.21,5.66 792.85,19.08 778.75,19.08 774.39,5.66" fill="none" stroke="#800000" stroke-width="1.60" stroke-linejoin="miter"/>
<polyline points="136.00,537.48 150.44,537.48 164.88,537.48 179.32,537.48 193.76,537.48 208.20,537.48 222.64,537.48 237.08,537.48 251.52,537.48 265.96,537.48 280.40,537.48 294.84,537.48 309.28,537.48 323.72,537.48 338.16,537.48 352.60,537.48 367.04,537.48 381.48,537.48 395.92,537.48 410.36,537.48 424.80,537.48 439.24,537.48 453.68,537.48 468.12,537.48 482.56,537.48 497.00,537.48 511.44,537.48 525.88,537.48 540.32,537.47 554.76,537.47 569.20,537.46 583.64,537.44 598.08,537.40 612.52,537.31 626.96,537.12 641.40,536.73 655.84,535.91 670.28,534.19 684.72,528.92 699.16,517.08 713.60,499.31 728.04,462.60 742.48,392.06 756.92,264.41 771.36,54.51 785.80,-186.98" fill="none" stroke="#a60068" stroke-width="0.75"/>
<polygon points="136.00,523.28 148.30,544.58 123.70,544.58" fill="#fff"/><polygon points="136.00,523.28 148.30,544.58 136.00,544.58 136.00,523.28" fill="#a60068"/><polygon points="136.00,523.28 148.30,544.58 123.70,544.58" fill="none" stroke="#a60068" stroke-width="1.60" stroke-linejoin="miter"/>
<polygon points="150.44,523.28 162.74,544.58 138.14,544.58" fill="#fff"/><polygon points="150.44,523.28 162.74,544.58 150.44,544.58 150.44,523.28" fill="#a60068"/><polygon points="150.44,523.28 162.74,544.58 138.14,544.58" fill="none" stroke="#a60068" stroke-width="1.60" stroke-linejoin="miter"/>
<polygon points="164.88,523.28 177.18,544.58 152.58,544.58" fill="#fff"/><polygon points="164.88,523.28 177.18,544.58 164.88,544.58 164.88,523.28" fill="#a60068"/><polygon points="164.88,523.28 177.18,544.58 152.58,544.58" fill="none" stroke="#a60068" stroke-width="1.60" stroke-linejoin="miter"/>
<polygon points="179.32,523.28 191.62,544.58 167.02,544.58" fill="#fff"/><polygon points="179.32,523.28 191.62,544.58 179.32,544.58 179.32,523.28" fill="#a60068"/><polygon points="179.32,523.28 191.62,544.58 167.02,544.58" fill="none" stroke="#a60068" stroke-width="1.60" stroke-linejoin="miter"/>
<polygon points="193.76,523.28 206.06,544.58 181.46,544.58" fill="#fff"/><polygon points="193.76,523.28 206.06,544.58 193.76,544.58 193.76,523.28" fill="#a60068"/><polygon points="193.76,523.28 206.06,544.58 181.46,544.58" fill="none" stroke="#a60068" stroke-width="1.60" stroke-linejoin="miter"/>
<polygon points="208.20,523.28 220.50,544.58 195.90,544.58" fill="#fff"/><polygon points="208.20,523.28 220.50,544.58 208.20,544.58 208.20,523.28" fill="#a60068"/><polygon points="208.20,523.28 220.50,544.58 195.90,544.58" fill="none" stroke="#a60068" stroke-width="1.60" stroke-linejoin="miter"/>
<polygon points="222.64,523.28 234.94,544.58 210.34,544.58" fill="#fff"/><polygon points="222.64,523.28 234.94,544.58 222.64,544.58 222.64,523.28" fill="#a60068"/><polygon points="222.64,523.28 234.94,544.58 210.34,544.58" fill="none" stroke="#a60068" stroke-width="1.60" stroke-linejoin="miter"/>
<polygon points="237.08,523.28 249.38,544.58 224.78,544.58" fill="#fff"/><polygon points="237.08,523.28 249.38,544.58 237.08,544.58 237.08,523.28" fill="#a60068"/><polygon points="237.08,523.28 249.38,544.58 224.78,544.58" fill="none" stroke="#a60068" stroke-width="1.60" stroke-linejoin="miter"/>
<polygon points="251.52,523.28 263.82,544.58 239.22,544.58" fill="#fff"/><polygon points="251.52,523.28 263.82,544.58 251.52,544.58 251.52,523.28" fill="#a60068"/><polygon points="251.52,523.28 263.82,544.58 239.22,544.58" fill="none" stroke="#a60068" stroke-width="1.60" stroke-linejoin="miter"/>
<polygon points="265.96,523.28 278.26,544.58 253.66,544.58" fill="#fff"/><polygon points="265.96,523.28 278.26,544.58 265.96,544.58 265.96,523.28" fill="#a60068"/><polygon points="265.96,523.28 278.26,544.58 253.66,544.58" fill="none" stroke="#a60068" stroke-width="1.60" stroke-linejoin="miter"/>
<polygon points="280.40,523.28 292.70,544.58 268.10,544.58" fill="#fff"/><polygon points="280.40,523.28 292.70,544.58 280.40,544.58 280.40,523.28" fill="#a60068"/><polygon points="280.40,523.28 292.70,544.58 268.10,544.58" fill="none" stroke="#a60068" stroke-width="1.60" stroke-linejoin="miter"/>
<polygon points="294.84,523.28 307.14,544.58 282.54,544.58" fill="#fff"/><polygon points="294.84,523.28 307.14,544.58 294.84,544.58 294.84,523.28" fill="#a60068"/><polygon points="294.84,523.28 307.14,544.58 282.54,544.58" fill="none" stroke="#a60068" stroke-width="1.60" stroke-linejoin="miter"/>
<polygon points="309.28,523.28 321.58,544.58 296.98,544.58" fill="#fff"/><polygon points="309.28,523.28 321.58,544.58 309.28,544.58 309.28,523.28" fill="#a60068"/><polygon points="309.28,523.28 321.58,544.58 296.98,544.58" fill="none" stroke="#a60068" stroke-width="1.60" stroke-linejoin="miter"/>
<polygon points="323.72,523.28 336.02,544.58 311.42,544.58" fill="#fff"/><polygon points="323.72,523.28 336.02,544.58 323.72,544.58 323.72,523.28" fill="#a60068"/><polygon points="323.72,523.28 336.02,544.58 311.42,544.58" fill="none" stroke="#a60068" stroke-width="1.60" stroke-linejoin="miter"/>
<polygon points="338.16,523.28 350.46,544.58 325.86,544.58" fill="#fff"/><polygon points="338.16,523.28 350.46,544.58 338.16,544.58 338.16,523.28" fill="#a60068"/><polygon points="338.16,523.28 350.46,544.58 325.86,544.58" fill="none" stroke="#a60068" stroke-width="1.60" stroke-linejoin="miter"/>
<polygon points="352.60,523.28 364.90,544.58 340.30,544.58" fill="#fff"/><polygon points="352.60,523.28 364.90,544.58 352.60,544.58 352.60,523.28" fill="#a60068"/><polygon points="352.60,523.28 364.90,544.58 340.30,544.58" fill="none" stroke="#a60068" stroke-width="1.60" stroke-linejoin="miter"/>
<polygon points="367.04,523.28 379.34,544.58 354.74,544.58" fill="#fff"/><polygon points="367.04,523.28 379.34,544.58 367.04,544.58 367.04,523.28" fill="#a60068"/><polygon points="367.04,523.28 379.34,544.58 354.74,544.58" fill="none" stroke="#a60068" stroke-width="1.60" stroke-linejoin="miter"/>
<polygon points="381.48,523.28 393.78,544.58 369.18,544.58" fill="#fff"/><polygon points="381.48,523.28 393.78,544.58 381.48,544.58 381.48,523.28" fill="#a60068"/><polygon points="381.48,523.28 393.78,544.58 369.18,544.58" fill="none" stroke="#a60068" stroke-width="1.60" stroke-linejoin="miter"/>
<polygon points="395.92,523.28 408.22,544.58 383.62,544.58" fill="#fff"/><polygon points="395.92,523.28 408.22,544.58 395.92,544.58 395.92,523.28" fill="#a60068"/><polygon points="395.92,523.28 408.22,544.58 383.62,544.58" fill="none" stroke="#a60068" stroke-width="1.60" stroke-linejoin="miter"/>
<polygon points="410.36,523.28 422.66,544.58 398.06,544.58" fill="#fff"/><polygon points="410.36,523.28 422.66,544.58 410.36,544.58 410.36,523.28" fill="#a60068"/><polygon points="410.36,523.28 422.66,544.58 398.06,544.58" fill="none" stroke="#a60068" stroke-width="1.60" stroke-linejoin="miter"/>
<polygon points="424.80,523.28 437.10,544.58 412.50,544.58" fill="#fff"/><polygon points="424.80,523.28 437.10,544.58 424.80,544.58 424.80,523.28" fill="#a60068"/><polygon points="424.80,523.28 437.10,544.58 412.50,544.58" fill="none" stroke="#a60068" stroke-width="1.60" stroke-linejoin="miter"/>
<polygon points="439.24,523.28 451.54,544.58 426.94,544.58" fill="#fff"/><polygon points="439.24,523.28 451.54,544.58 439.24,544.58 439.24,523.28" fill="#a60068"/><polygon points="439.24,523.28 451.54,544.58 426.94,544.58" fill="none" stroke="#a60068" stroke-width="1.60" stroke-linejoin="miter"/>
<polygon points="453.68,523.28 465.98,544.58 441.38,544.58" fill="#fff"/><polygon points="453.68,523.28 465.98,544.58 453.68,544.58 453.68,523.28" fill="#a60068"/><polygon points="453.68,523.28 465.98,544.58 441.38,544.58" fill="none" stroke="#a60068" stroke-width="1.60" stroke-linejoin="miter"/>
<polygon points="468.12,523.28 480.42,544.58 455.82,544.58" fill="#fff"/><polygon points="468.12,523.28 480.42,544.58 468.12,544.58 468.12,523.28" fill="#a60068"/><polygon points="468.12,523.28 480.42,544.58 455.82,544.58" fill="none" stroke="#a60068" stroke-width="1.60" stroke-linejoin="miter"/>
<polygon points="482.56,523.28 494.86,544.58 470.26,544.58" fill="#fff"/><polygon points="482.56,523.28 494.86,544.58 482.56,544.58 482.56,523.28" fill="#a60068"/><polygon points="482.56,523.28 494.86,544.58 470.26,544.58" fill="none" stroke="#a60068" stroke-width="1.60" stroke-linejoin="miter"/>
<polygon points="497.00,523.28 509.30,544.58 484.70,544.58" fill="#fff"/><polygon points="497.00,523.28 509.30,544.58 497.00,544.58 497.00,523.28" fill="#a60068"/><polygon points="497.00,523.28 509.30,544.58 484.70,544.58" fill="none" stroke="#a60068" stroke-width="1.60" stroke-linejoin="miter"/>
<polygon points="511.44,523.28 523.74,544.58 499.14,544.58" fill="#fff"/><polygon points="511.44,523.28 523.74,544.58 511.44,544.58 511.44,523.28" fill="#a60068"/><polygon points="511.44,523.28 523.74,544.58 499.14,544.58" fill="none" stroke="#a60068" stroke-width="1.60" stroke-linejoin="miter"/>
<polygon points="525.88,523.28 538.18,544.58 513.58,544.58" fill="#fff"/><polygon points="525.88,523.28 538.18,544.58 525.88,544.58 525.88,523.28" fill="#a60068"/><polygon points="525.88,523.28 538.18,544.58 513.58,544.58" fill="none" stroke="#a60068" stroke-width="1.60" stroke-linejoin="miter"/>
<polygon points="540.32,523.27 552.62,544.57 528.02,544.57" fill="#fff"/><polygon points="540.32,523.27 552.62,544.57 540.32,544.57 540.32,523.27" fill="#a60068"/><polygon points="540.32,523.27 552.62,544.57 528.02,544.57" fill="none" stroke="#a60068" stroke-width="1.60" stroke-linejoin="miter"/>
<polygon points="554.76,523.27 567.06,544.57 542.46,544.57" fill="#fff"/><polygon points="554.76,523.27 567.06,544.57 554.76,544.57 554.76,523.27" fill="#a60068"/><polygon points="554.76,523.27 567.06,544.57 542.46,544.57" fill="none" stroke="#a60068" stroke-width="1.60" stroke-linejoin="miter"/>
<polygon points="569.20,523.26 581.50,544.56 556.90,544.56" fill="#fff"/><polygon points="569.20,523.26 581.50,544.56 569.20,544.56 569.20,523.26" fill="#a60068"/><polygon points="569.20,523.26 581.50,544.56 556.90,544.56" fill="none" stroke="#a60068" stroke-width="1.60" stroke-linejoin="miter"/>
<polygon points="583.64,523.24 595.94,544.54 571.34,544.54" fill="#fff"/><polygon points="583.64,523.24 595.94,544.54 583.64,544.54 583.64,523.24" fill="#a60068"/><polygon points="583.64,523.24 595.94,544.54 571.34,544.54" fill="none" stroke="#a60068" stroke-width="1.60" stroke-linejoin="miter"/>
<polygon points="598.08,523.20 610.38,544.50 585.78,544.50" fill="#fff"/><polygon points="598.08,523.20 610.38,544.50 598.08,544.50 598.08,523.20" fill="#a60068"/><polygon points="598.08,523.20 610.38,544.50 585.78,544.50" fill="none" stroke="#a60068" stroke-width="1.60" stroke-linejoin="miter"/>
<polygon points="612.52,523.11 624.82,544.41 600.22,544.41" fill="#fff"/><polygon points="612.52,523.11 624.82,544.41 612.52,544.41 612.52,523.11" fill="#a60068"/><polygon points="612.52,523.11 624.82,544.41 600.22,544.41" fill="none" stroke="#a60068" stroke-width="1.60" stroke-linejoin="miter"/>
<polygon points="626.96,522.92 639.26,544.22 614.66,544.22" fill="#fff"/><polygon points="626.96,522.92 639.26,544.22 626.96,544.22 626.96,522.92" fill="#a60068"/><polygon points="626.96,522.92 639.26,544.22 614.66,544.22" fill="none" stroke="#a60068" stroke-width="1.60" stroke-linejoin="miter"/>
<polygon points="641.40,522.53 653.70,543.83 629.10,543.83" fill="#fff"/><polygon points="641.40,522.53 653.70,543.83 641.40,543.83 641.40,522.53" fill="#a60068"/><polygon points="641.40,522.53 653.70,543.83 629.10,543.83" fill="none" stroke="#a60068" stroke-width="1.60" stroke-linejoin="miter"/>
<polygon points="655.84,521.71 668.14,543.01 643.54,543.01" fill="#fff"/><polygon points="655.84,521.71 668.14,543.01 655.84,543.01 655.84,521.71" fill="#a60068"/><polygon points="655.84,521.71 668.14,543.01 643.54,543.01" fill="none" stroke="#a60068" stroke-width="1.60" stroke-linejoin="miter"/>
<polygon points="670.28,519.99 682.58,541.29 657.98,541.29" fill="#fff"/><polygon points="670.28,519.99 682.58,541.29 670.28,541.29 670.28,519.99" fill="#a60068"/><polygon points="670.28,519.99 682.58,541.29 657.98,541.29" fill="none" stroke="#a60068" stroke-width="1.60" stroke-linejoin="miter"/>
<polygon points="684.72,514.72 697.02,536.02 672.42,536.02" fill="#fff"/><polygon points="684.72,514.72 697.02,536.02 684.72,536.02 684.72,514.72" fill="#a60068"/><polygon points="684.72,514.72 697.02,536.02 672.42,536.02" fill="none" stroke="#a60068" stroke-width="1.60" stroke-linejoin="miter"/>
<polygon points="699.16,502.88 711.46,524.18 686.86,524.18" fill="#fff"/><polygon points="699.16,502.88 711.46,524.18 699.16,524.18 699.16,502.88" fill="#a60068"/><polygon points="699.16,502.88 711.46,524.18 686.86,524.18" fill="none" stroke="#a60068" stroke-width="1.60" stroke-linejoin="miter"/>
<polygon points="713.60,485.11 725.90,506.41 701.30,506.41" fill="#fff"/><polygon points="713.60,485.11 725.90,506.41 713.60,506.41 713.60,485.11" fill="#a60068"/><polygon points="713.60,485.11 725.90,506.41 701.30,506.41" fill="none" stroke="#a60068" stroke-width="1.60" stroke-linejoin="miter"/>
<polygon points="728.04,448.40 740.34,469.70 715.74,469.70" fill="#fff"/><polygon points="728.04,448.40 740.34,469.70 728.04,469.70 728.04,448.40" fill="#a60068"/><polygon points="728.04,448.40 740.34,469.70 715.74,469.70" fill="none" stroke="#a60068" stroke-width="1.60" stroke-linejoin="miter"/>
<polygon points="742.48,377.86 754.78,399.16 730.18,399.16" fill="#fff"/><polygon points="742.48,377.86 754.78,399.16 742.48,399.16 742.48,377.86" fill="#a60068"/><polygon points="742.48,377.86 754.78,399.16 730.18,399.16" fill="none" stroke="#a60068" stroke-width="1.60" stroke-linejoin="miter"/>
<polygon points="756.92,250.21 769.22,271.51 744.62,271.51" fill="#fff"/><polygon points="756.92,250.21 769.22,271.51 756.92,271.51 756.92,250.21" fill="#a60068"/><polygon points="756.92,250.21 769.22,271.51 744.62,271.51" fill="none" stroke="#a60068" stroke-width="1.60" stroke-linejoin="miter"/>
<polygon points="771.36,40.31 783.66,61.61 759.06,61.61" fill="#fff"/><polygon points="771.36,40.31 783.66,61.61 771.36,61.61 771.36,40.31" fill="#a60068"/><polygon points="771.36,40.31 783.66,61.61 759.06,61.61" fill="none" stroke="#a60068" stroke-width="1.60" stroke-linejoin="miter"/>
<polygon points="785.80,-201.18 798.10,-179.88 773.50,-179.88" fill="#fff"/><polygon points="785.80,-201.18 798.10,-179.88 785.80,-179.88 785.80,-201.18" fill="#a60068"/><polygon points="785.80,-201.18 798.10,-179.88 773.50,-179.88" fill="none" stroke="#a60068" stroke-width="1.60" stroke-linejoin="miter"/>
</g>
<line x1="176" y1="125.30" x2="254.3" y2="125.30" stroke="#006400" stroke-width="0.75"/>
<polygon points="205.70,115.80 224.70,115.80 224.70,134.80 205.70,134.80" fill="#fff"/><polygon points="215.20,115.80 224.70,115.80 224.70,134.80 215.20,134.80" fill="#006400"/><polygon points="205.70,115.80 224.70,115.80 224.70,134.80 205.70,134.80" fill="none" stroke="#006400" stroke-width="1.60" stroke-linejoin="miter"/>
<text transform="translate(264.00,137.40) scale(1,1.040)" font-size="33.50" text-anchor="start">MgS</text>
<line x1="176" y1="168.20" x2="254.3" y2="168.20" stroke="#f04141" stroke-width="0.75"/>
<circle cx="215.20" cy="168.20" r="10.60" fill="#fff" stroke="none"/><path d="M215.20 157.60 A10.60 10.60 0 0 1 215.20 178.80 Z" fill="#f04141"/><circle cx="215.20" cy="168.20" r="10.60" fill="none" stroke="#f04141" stroke-width="1.60"/>
<text transform="translate(264.00,180.30) scale(1,1.040)" font-size="33.50" text-anchor="start">CaS</text>
<line x1="176" y1="211.00" x2="254.3" y2="211.00" stroke="#4a006c" stroke-width="0.75"/>
<polygon points="215.20,199.60 225.07,205.30 225.07,216.70 215.20,222.40 205.33,216.70 205.33,205.30" fill="#fff"/><polygon points="215.20,199.60 225.07,205.30 225.07,216.70 215.20,222.40 215.20,222.40 215.20,199.60" fill="#4a006c"/><polygon points="215.20,199.60 225.07,205.30 225.07,216.70 215.20,222.40 205.33,216.70 205.33,205.30" fill="none" stroke="#4a006c" stroke-width="1.60" stroke-linejoin="miter"/>
<text transform="translate(264.00,223.10) scale(1,1.040)" font-size="33.50" text-anchor="start">SrS</text>
<line x1="176" y1="254.30" x2="254.3" y2="254.30" stroke="#800000" stroke-width="0.75"/>
<polygon points="215.20,242.30 226.61,250.59 222.25,264.01 208.15,264.01 203.79,250.59" fill="#fff"/><polygon points="215.20,242.30 226.61,250.59 222.25,264.01 215.20,264.01 215.20,242.30" fill="#800000"/><polygon points="215.20,242.30 226.61,250.59 222.25,264.01 208.15,264.01 203.79,250.59" fill="none" stroke="#800000" stroke-width="1.60" stroke-linejoin="miter"/>
<text transform="translate(264.00,266.40) scale(1,1.040)" font-size="33.50" text-anchor="start">BaS</text>
<line x1="176" y1="297.30" x2="254.3" y2="297.30" stroke="#a60068" stroke-width="0.75"/>
<polygon points="215.20,283.10 227.50,304.40 202.90,304.40" fill="#fff"/><polygon points="215.20,283.10 227.50,304.40 215.20,304.40 215.20,283.10" fill="#a60068"/><polygon points="215.20,283.10 227.50,304.40 202.90,304.40" fill="none" stroke="#a60068" stroke-width="1.60" stroke-linejoin="miter"/>
<text transform="translate(264.00,309.40) scale(1,1.040)" font-size="33.50" text-anchor="start">CdS</text>
</svg></body></html>
